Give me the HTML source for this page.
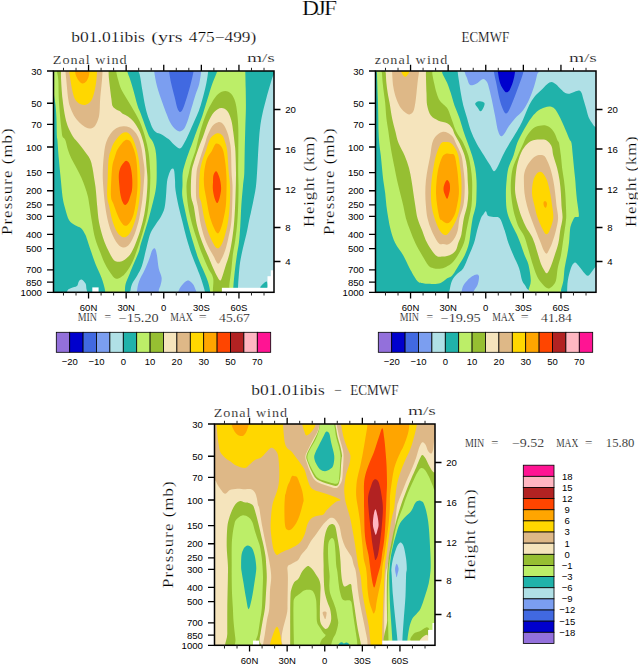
<!DOCTYPE html><html><head><meta charset="utf-8"><style>html,body{margin:0;padding:0;background:#fff;overflow:hidden}svg{display:block}</style></head><body><svg width="638" height="664" viewBox="0 0 638 664">
<rect width="638" height="664" fill="#fff"/>
<text transform="translate(301.90,14.80) scale(1.12,1)" x="0" y="0" font-family='"Liberation Serif", serif' font-size="21" text-anchor="start" textLength="31.34" lengthAdjust="spacing"  stroke="#fff" stroke-width="0.2">DJF</text>
<clipPath id="c1"><rect x="53.5" y="71.0" width="220.5" height="221.3"/></clipPath>
<g clip-path="url(#c1)">
<rect x="0" y="0" width="638" height="664" fill="#20b2aa"/>
<path d="M48.00,66.00C61.20,63.00 114.00,65.17 127.20,66.00C140.40,66.83 126.68,68.67 127.20,71.00C127.72,73.33 129.28,76.83 130.30,80.00C131.32,83.17 132.08,85.72 133.30,90.00C134.52,94.28 136.40,101.87 137.60,105.70C138.80,109.53 139.52,110.40 140.50,113.00C141.48,115.60 142.42,118.30 143.50,121.30C144.58,124.30 146.00,128.38 147.00,131.00C148.00,133.62 148.52,135.17 149.50,137.00C150.48,138.83 151.90,139.83 152.90,142.00C153.90,144.17 154.90,147.00 155.50,150.00C156.10,153.00 156.30,156.33 156.50,160.00C156.70,163.67 156.70,168.33 156.70,172.00C156.70,175.67 156.73,178.67 156.50,182.00C156.27,185.33 156.05,188.00 155.30,192.00C154.55,196.00 153.17,201.33 152.00,206.00C150.83,210.67 149.58,215.50 148.30,220.00C147.02,224.50 145.60,228.83 144.30,233.00C143.00,237.17 141.38,241.95 140.50,245.00C139.62,248.05 140.03,248.37 139.00,251.30C137.97,254.23 135.87,258.83 134.30,262.60C132.73,266.37 131.02,270.45 129.60,273.90C128.18,277.35 126.58,280.55 125.80,283.30C125.02,286.05 125.05,288.12 124.90,290.40C124.75,292.68 128.20,295.90 124.90,297.00C121.60,298.10 108.40,298.10 105.10,297.00C101.80,295.90 105.72,293.63 105.10,290.40C104.48,287.17 102.97,281.92 101.40,277.60C99.83,273.28 97.43,268.88 95.70,264.50C93.97,260.12 92.40,255.38 91.00,251.30C89.60,247.22 88.28,242.85 87.30,240.00C86.32,237.15 86.13,236.17 85.10,234.20C84.07,232.23 82.77,229.70 81.10,228.20C79.43,226.70 77.10,226.53 75.10,225.20C73.10,223.87 70.78,223.07 69.10,220.20C67.42,217.33 66.10,211.97 65.00,208.00C63.90,204.03 63.23,201.47 62.50,196.40C61.77,191.33 61.22,183.87 60.60,177.60C59.98,171.33 59.33,165.07 58.80,158.80C58.27,152.53 57.72,143.73 57.40,140.00C57.08,136.27 57.07,140.13 56.90,136.40C56.73,132.67 56.63,122.83 56.40,117.60C56.17,112.37 55.90,108.77 55.50,105.00C55.10,101.23 54.42,98.50 54.00,95.00C53.58,91.50 54.00,85.83 53.00,84.00C52.00,82.17 48.83,87.00 48.00,84.00C47.17,81.00 34.80,69.00 48.00,66.00Z" fill="#bcee68"/>
<path d="M217.20,66.00C221.88,65.13 240.62,65.13 245.30,66.00C249.98,66.87 245.23,67.53 245.30,71.20C245.37,74.87 245.60,81.87 245.70,88.00C245.80,94.13 245.97,101.33 245.90,108.00C245.83,114.67 245.50,120.83 245.30,128.00C245.10,135.17 244.87,143.50 244.70,151.00C244.53,158.50 244.58,167.17 244.30,173.00C244.02,178.83 243.50,180.50 243.00,186.00C242.50,191.50 241.75,199.33 241.30,206.00C240.85,212.67 240.68,220.00 240.30,226.00C239.92,232.00 239.57,237.17 239.00,242.00C238.43,246.83 237.58,250.28 236.90,255.00C236.22,259.72 235.50,264.87 234.90,270.30C234.30,275.73 233.57,283.15 233.30,287.60C233.03,292.05 237.15,295.43 233.30,297.00C229.45,298.57 214.05,297.83 210.20,297.00C206.35,296.17 210.53,294.43 210.20,292.00C209.87,289.57 209.20,285.68 208.20,282.40C207.20,279.12 205.87,276.32 204.20,272.30C202.53,268.28 200.05,263.32 198.20,258.30C196.35,253.28 194.78,247.88 193.10,242.20C191.42,236.52 189.60,230.22 188.10,224.20C186.60,218.18 185.08,210.98 184.10,206.10C183.12,201.22 182.47,198.42 182.20,194.90C181.93,191.38 182.42,188.67 182.50,185.00C182.58,181.33 182.20,176.73 182.70,172.90C183.20,169.07 184.40,165.65 185.50,162.00C186.60,158.35 188.22,154.00 189.30,151.00C190.38,148.00 190.85,147.13 192.00,144.00C193.15,140.87 194.50,136.83 196.20,132.20C197.90,127.57 200.37,121.55 202.20,116.20C204.03,110.85 205.53,105.47 207.20,100.10C208.87,94.73 210.53,88.82 212.20,84.00C213.87,79.18 216.37,74.20 217.20,71.20C218.03,68.20 212.52,66.87 217.20,66.00Z" fill="#bcee68"/>
<path d="M57.00,66.00C47.13,66.87 56.78,68.87 57.00,71.20C57.22,73.53 58.00,75.40 58.30,80.00C58.60,84.60 58.48,92.53 58.80,98.80C59.12,105.07 59.75,112.40 60.20,117.60C60.65,122.80 61.12,126.87 61.50,130.00C61.88,133.13 61.87,134.73 62.50,136.40C63.13,138.07 64.38,137.73 65.30,140.00C66.22,142.27 66.97,146.87 68.00,150.00C69.03,153.13 70.08,155.80 71.50,158.80C72.92,161.80 74.87,164.87 76.50,168.00C78.13,171.13 79.88,174.43 81.30,177.60C82.72,180.77 83.90,183.87 85.00,187.00C86.10,190.13 87.15,193.23 87.90,196.40C88.65,199.57 88.82,201.70 89.50,206.00C90.18,210.30 91.07,216.83 92.00,222.20C92.93,227.57 93.73,233.18 95.10,238.20C96.47,243.22 98.52,247.95 100.20,252.30C101.88,256.65 103.48,260.85 105.20,264.30C106.92,267.75 108.78,270.62 110.50,273.00C112.22,275.38 113.72,277.93 115.50,278.60C117.28,279.27 119.42,278.05 121.20,277.00C122.98,275.95 124.35,274.75 126.20,272.30C128.05,269.85 130.28,266.63 132.30,262.30C134.32,257.97 136.47,251.65 138.30,246.30C140.13,240.95 141.80,235.55 143.30,230.20C144.80,224.85 146.27,219.90 147.30,214.20C148.33,208.50 149.00,201.70 149.50,196.00C150.00,190.30 150.22,184.67 150.30,180.00C150.38,175.33 150.30,172.67 150.00,168.00C149.70,163.33 149.32,157.17 148.50,152.00C147.68,146.83 146.58,142.12 145.10,137.00C143.62,131.88 141.95,126.52 139.60,121.30C137.25,116.08 134.00,110.92 131.00,105.70C128.00,100.48 123.73,94.28 121.60,90.00C119.47,85.72 119.10,83.13 118.20,80.00C117.30,76.87 116.53,73.53 116.20,71.20C115.87,68.87 126.07,66.87 116.20,66.00C106.33,65.13 66.87,65.13 57.00,66.00Z" fill="#96bf32"/>
<path d="M225.20,91.10C227.38,91.10 229.62,92.27 231.30,94.10C232.98,95.93 234.30,98.77 235.30,102.10C236.30,105.43 236.80,109.75 237.30,114.10C237.80,118.45 238.13,122.05 238.30,128.20C238.47,134.35 238.32,143.55 238.30,151.00C238.28,158.45 238.17,167.23 238.20,172.90C238.23,178.57 238.48,180.13 238.50,185.00C238.52,189.87 238.50,195.90 238.30,202.10C238.10,208.30 237.80,215.88 237.30,222.20C236.80,228.52 236.05,234.53 235.30,240.00C234.55,245.47 233.47,249.95 232.80,255.00C232.13,260.05 231.88,265.20 231.30,270.30C230.72,275.40 229.68,281.15 229.30,285.60C228.92,290.05 231.55,295.10 229.00,297.00C226.45,298.90 216.63,300.10 214.00,297.00C211.37,293.90 214.17,283.18 213.20,278.40C212.23,273.62 210.03,272.32 208.20,268.30C206.37,264.28 204.03,258.98 202.20,254.30C200.37,249.62 198.88,245.22 197.20,240.20C195.52,235.18 193.62,229.88 192.10,224.20C190.58,218.52 189.03,212.45 188.10,206.10C187.17,199.75 186.38,191.63 186.50,186.10C186.62,180.57 187.97,176.92 188.80,172.90C189.63,168.88 190.40,165.65 191.50,162.00C192.60,158.35 194.32,154.67 195.40,151.00C196.48,147.33 197.03,143.80 198.00,140.00C198.97,136.20 199.83,132.52 201.20,128.20C202.57,123.88 204.37,118.45 206.20,114.10C208.03,109.75 210.20,105.43 212.20,102.10C214.20,98.77 216.03,95.93 218.20,94.10C220.37,92.27 223.02,91.10 225.20,91.10Z" fill="#96bf32"/>
<path d="M61.00,66.00C53.07,66.87 60.98,68.87 61.00,71.20C61.02,73.53 60.85,75.40 61.10,80.00C61.35,84.60 61.80,92.53 62.50,98.80C63.20,105.07 64.30,112.73 65.30,117.60C66.30,122.47 67.23,124.87 68.50,128.00C69.77,131.13 71.70,134.40 72.90,136.40C74.10,138.40 74.02,137.90 75.70,140.00C77.38,142.10 80.65,145.87 83.00,149.00C85.35,152.13 88.22,155.63 89.80,158.80C91.38,161.97 91.80,164.87 92.50,168.00C93.20,171.13 93.50,174.43 94.00,177.60C94.50,180.77 95.10,183.87 95.50,187.00C95.90,190.13 96.12,193.23 96.40,196.40C96.68,199.57 96.77,201.70 97.20,206.00C97.63,210.30 98.00,216.83 99.00,222.20C100.00,227.57 101.67,233.52 103.20,238.20C104.73,242.88 106.57,246.83 108.20,250.30C109.83,253.77 111.63,257.12 113.00,259.00C114.37,260.88 115.07,261.18 116.40,261.60C117.73,262.02 119.57,261.85 121.00,261.50C122.43,261.15 123.45,260.70 125.00,259.50C126.55,258.30 128.58,256.85 130.30,254.30C132.02,251.75 133.63,248.22 135.30,244.20C136.97,240.18 138.80,235.20 140.30,230.20C141.80,225.20 143.23,219.88 144.30,214.20C145.37,208.52 146.17,201.80 146.70,196.10C147.23,190.40 147.50,184.63 147.50,180.00C147.50,175.37 147.07,172.92 146.70,168.30C146.33,163.68 145.92,156.85 145.30,152.30C144.68,147.75 143.97,144.55 143.00,141.00C142.03,137.45 141.12,134.28 139.50,131.00C137.88,127.72 135.22,123.72 133.30,121.30C131.38,118.88 129.68,117.70 128.00,116.50C126.32,115.30 124.53,114.98 123.20,114.10C121.87,113.22 121.17,111.97 120.00,111.20C118.83,110.43 117.43,110.35 116.20,109.50C114.97,108.65 113.40,107.88 112.60,106.10C111.80,104.32 111.98,103.15 111.40,98.80C110.82,94.45 109.57,84.60 109.10,80.00C108.63,75.40 108.68,73.53 108.60,71.20C108.52,68.87 116.53,66.87 108.60,66.00C100.67,65.13 68.93,65.13 61.00,66.00Z" fill="#f5e4bc"/>
<path d="M221.20,108.10C223.38,107.93 225.62,109.08 227.30,111.10C228.98,113.12 230.30,116.68 231.30,120.20C232.30,123.72 232.72,128.07 233.30,132.20C233.88,136.33 234.45,141.87 234.80,145.00C235.15,148.13 235.20,146.35 235.40,151.00C235.60,155.65 235.98,165.40 236.00,172.90C236.02,180.40 235.78,188.12 235.50,196.00C235.22,203.88 234.83,213.17 234.30,220.20C233.77,227.23 233.13,232.52 232.30,238.20C231.47,243.88 230.43,249.62 229.30,254.30C228.17,258.98 226.63,262.68 225.50,266.30C224.37,269.92 223.37,273.62 222.50,276.00C221.63,278.38 221.13,280.43 220.30,280.60C219.47,280.77 218.68,279.05 217.50,277.00C216.32,274.95 214.75,271.75 213.20,268.30C211.65,264.85 210.03,260.65 208.20,256.30C206.37,251.95 204.03,247.22 202.20,242.20C200.37,237.18 198.62,232.22 197.20,226.20C195.78,220.18 194.73,211.32 193.70,206.10C192.67,200.88 191.37,200.43 191.00,194.90C190.63,189.37 191.00,178.38 191.50,172.90C192.00,167.42 192.98,165.65 194.00,162.00C195.02,158.35 196.52,154.17 197.60,151.00C198.68,147.83 199.57,145.47 200.50,143.00C201.43,140.53 201.92,139.67 203.20,136.20C204.48,132.73 206.37,126.22 208.20,122.20C210.03,118.18 212.03,114.45 214.20,112.10C216.37,109.75 219.02,108.27 221.20,108.10Z" fill="#f5e4bc"/>
<path d="M65.50,66.00C59.33,66.87 65.37,68.87 65.50,71.20C65.63,73.53 65.85,75.40 66.30,80.00C66.75,84.60 67.50,94.13 68.20,98.80C68.90,103.47 69.33,104.87 70.50,108.00C71.67,111.13 73.53,115.02 75.20,117.60C76.87,120.18 78.70,121.85 80.50,123.50C82.30,125.15 84.30,126.68 86.00,127.50C87.70,128.32 89.20,128.65 90.70,128.40C92.20,128.15 93.67,127.80 95.00,126.00C96.33,124.20 97.90,120.60 98.70,117.60C99.50,114.60 99.55,111.13 99.80,108.00C100.05,104.87 99.83,103.47 100.20,98.80C100.57,94.13 101.62,84.63 102.00,80.00C102.38,75.37 102.42,73.33 102.50,71.00C102.58,68.67 108.67,66.83 102.50,66.00C96.33,65.17 71.67,65.13 65.50,66.00Z" fill="#deb887"/>
<path d="M116.20,128.20C118.37,126.87 121.02,126.37 123.20,126.20C125.38,126.03 127.45,126.37 129.30,127.20C131.15,128.03 132.80,129.53 134.30,131.20C135.80,132.87 137.13,134.52 138.30,137.20C139.47,139.88 140.47,143.45 141.30,147.30C142.13,151.15 142.77,156.52 143.30,160.30C143.83,164.08 144.40,166.37 144.50,170.00C144.60,173.63 144.27,177.08 143.90,182.10C143.53,187.12 143.07,194.08 142.30,200.10C141.53,206.12 140.47,212.85 139.30,218.20C138.13,223.55 136.63,228.37 135.30,232.20C133.97,236.03 132.65,238.85 131.30,241.20C129.95,243.55 128.72,245.28 127.20,246.30C125.68,247.32 123.87,247.82 122.20,247.30C120.53,246.78 118.87,245.38 117.20,243.20C115.53,241.02 113.70,237.70 112.20,234.20C110.70,230.70 109.37,226.88 108.20,222.20C107.03,217.52 106.03,212.12 105.20,206.10C104.37,200.08 103.60,192.12 103.20,186.10C102.80,180.08 102.63,175.63 102.80,170.00C102.97,164.37 103.63,156.93 104.20,152.30C104.77,147.67 105.20,145.22 106.20,142.20C107.20,139.18 108.53,136.53 110.20,134.20C111.87,131.87 114.03,129.53 116.20,128.20Z" fill="#deb887"/>
<path d="M218.20,122.20C220.03,121.87 221.68,122.53 223.20,124.20C224.72,125.87 226.20,129.23 227.30,132.20C228.40,135.17 229.18,138.87 229.80,142.00C230.42,145.13 230.70,145.85 231.00,151.00C231.30,156.15 231.35,167.23 231.60,172.90C231.85,178.57 232.38,180.13 232.50,185.00C232.62,189.87 232.50,195.90 232.30,202.10C232.10,208.30 231.97,216.18 231.30,222.20C230.63,228.22 229.32,233.52 228.30,238.20C227.28,242.88 226.33,246.83 225.20,250.30C224.07,253.77 222.70,256.77 221.50,259.00C220.30,261.23 219.33,264.20 218.00,263.70C216.67,263.20 215.47,259.58 213.50,256.00C211.53,252.42 208.25,247.17 206.20,242.20C204.15,237.23 202.60,232.22 201.20,226.20C199.80,220.18 198.67,211.32 197.80,206.10C196.93,200.88 196.22,200.43 196.00,194.90C195.78,189.37 196.00,178.38 196.50,172.90C197.00,167.42 198.00,165.65 199.00,162.00C200.00,158.35 201.42,154.33 202.50,151.00C203.58,147.67 204.72,144.47 205.50,142.00C206.28,139.53 206.08,138.83 207.20,136.20C208.32,133.57 210.37,128.53 212.20,126.20C214.03,123.87 216.37,122.53 218.20,122.20Z" fill="#deb887"/>
<path d="M69.10,66.00C64.45,66.87 68.87,68.87 69.10,71.20C69.33,73.53 69.98,76.87 70.50,80.00C71.02,83.13 71.48,86.87 72.20,90.00C72.92,93.13 73.67,96.55 74.80,98.80C75.93,101.05 77.37,102.48 79.00,103.50C80.63,104.52 82.93,104.98 84.60,104.90C86.27,104.82 87.73,104.02 89.00,103.00C90.27,101.98 91.23,100.97 92.20,98.80C93.17,96.63 94.10,93.13 94.80,90.00C95.50,86.87 96.03,83.13 96.40,80.00C96.77,76.87 96.90,73.53 97.00,71.20C97.10,68.87 101.65,66.87 97.00,66.00C92.35,65.13 73.75,65.13 69.10,66.00Z" fill="#ffd700"/>
<path d="M122.20,133.20C123.87,132.27 125.68,132.10 127.20,132.60C128.72,133.10 130.12,134.60 131.30,136.20C132.48,137.80 133.30,139.52 134.30,142.20C135.30,144.88 136.47,148.67 137.30,152.30C138.13,155.93 138.77,159.05 139.30,164.00C139.83,168.95 140.50,175.98 140.50,182.00C140.50,188.02 140.00,194.40 139.30,200.10C138.60,205.80 137.47,211.52 136.30,216.20C135.13,220.88 133.65,225.03 132.30,228.20C130.95,231.37 129.72,233.70 128.20,235.20C126.68,236.70 125.03,237.70 123.20,237.20C121.37,236.70 119.03,235.03 117.20,232.20C115.37,229.37 113.53,224.55 112.20,220.20C110.87,215.85 110.03,210.07 109.20,206.10C108.37,202.13 107.45,201.15 107.20,196.40C106.95,191.65 107.47,183.87 107.70,177.60C107.93,171.33 108.05,163.40 108.60,158.80C109.15,154.20 110.23,152.47 111.00,150.00C111.77,147.53 112.17,145.97 113.20,144.00C114.23,142.03 115.70,140.00 117.20,138.20C118.70,136.40 120.53,134.13 122.20,133.20Z" fill="#ffd700"/>
<path d="M217.20,133.20C219.03,132.87 220.87,133.70 222.20,135.20C223.53,136.70 224.37,139.57 225.20,142.20C226.03,144.83 226.60,145.88 227.20,151.00C227.80,156.12 228.33,167.23 228.80,172.90C229.27,178.57 229.82,180.13 230.00,185.00C230.18,189.87 230.18,196.23 229.90,202.10C229.62,207.97 229.08,214.85 228.30,220.20C227.52,225.55 226.38,230.02 225.20,234.20C224.02,238.38 222.53,242.95 221.20,245.30C219.87,247.65 218.53,248.65 217.20,248.30C215.87,247.95 214.70,245.88 213.20,243.20C211.70,240.52 209.70,236.37 208.20,232.20C206.70,228.03 205.37,223.22 204.20,218.20C203.03,213.18 202.03,205.98 201.20,202.10C200.37,198.22 199.43,199.77 199.20,194.90C198.97,190.03 199.25,178.72 199.80,172.90C200.35,167.08 201.50,163.65 202.50,160.00C203.50,156.35 204.88,153.67 205.80,151.00C206.72,148.33 207.10,146.30 208.00,144.00C208.90,141.70 209.67,139.00 211.20,137.20C212.73,135.40 215.37,133.53 217.20,133.20Z" fill="#ffd700"/>
<path d="M75.10,66.00C72.70,66.87 74.93,69.53 75.10,71.20C75.27,72.87 75.43,74.37 76.10,76.00C76.77,77.63 78.03,79.73 79.10,81.00C80.17,82.27 81.33,83.50 82.50,83.60C83.67,83.70 85.10,82.70 86.10,81.60C87.10,80.50 87.93,78.73 88.50,77.00C89.07,75.27 89.33,73.03 89.50,71.20C89.67,69.37 91.90,66.87 89.50,66.00C87.10,65.13 77.50,65.13 75.10,66.00Z" fill="#ffa500"/>
<path d="M125.20,140.20C126.55,139.60 128.12,139.77 129.30,140.60C130.48,141.43 131.30,142.92 132.30,145.20C133.30,147.48 134.52,150.83 135.30,154.30C136.08,157.77 136.63,160.72 137.00,166.00C137.37,171.28 137.68,179.98 137.50,186.00C137.32,192.02 136.60,197.23 135.90,202.10C135.20,206.97 134.40,211.68 133.30,215.20C132.20,218.72 130.65,221.43 129.30,223.20C127.95,224.97 126.55,225.97 125.20,225.80C123.85,225.63 122.53,224.13 121.20,222.20C119.87,220.27 118.48,217.23 117.20,214.20C115.92,211.17 114.53,206.97 113.50,204.00C112.47,201.03 111.35,200.80 111.00,196.40C110.65,192.00 111.15,182.83 111.40,177.60C111.65,172.37 111.98,168.27 112.50,165.00C113.02,161.73 113.72,160.50 114.50,158.00C115.28,155.50 116.08,152.30 117.20,150.00C118.32,147.70 119.87,145.83 121.20,144.20C122.53,142.57 123.85,140.80 125.20,140.20Z" fill="#ffa500"/>
<path d="M215.70,143.80C217.10,142.83 218.93,144.00 220.20,145.20C221.47,146.40 222.42,147.82 223.30,151.00C224.18,154.18 224.97,159.80 225.50,164.30C226.03,168.80 226.33,173.70 226.50,178.00C226.67,182.30 226.62,185.42 226.50,190.10C226.38,194.78 226.35,201.08 225.80,206.10C225.25,211.12 224.13,216.18 223.20,220.20C222.27,224.22 221.20,228.03 220.20,230.20C219.20,232.37 218.37,233.87 217.20,233.20C216.03,232.53 214.53,229.37 213.20,226.20C211.87,223.03 210.37,218.88 209.20,214.20C208.03,209.52 207.07,202.97 206.20,198.10C205.33,193.23 204.35,189.20 204.00,185.00C203.65,180.80 203.77,176.73 204.10,172.90C204.43,169.07 205.32,164.77 206.00,162.00C206.68,159.23 207.23,158.13 208.20,156.30C209.17,154.47 210.55,153.08 211.80,151.00C213.05,148.92 214.30,144.77 215.70,143.80Z" fill="#ffa500"/>
<path d="M123.20,163.30C124.20,162.03 125.18,160.70 126.20,160.70C127.22,160.70 128.45,161.70 129.30,163.30C130.15,164.90 130.80,167.52 131.30,170.30C131.80,173.08 132.18,176.72 132.30,180.00C132.42,183.28 132.38,187.17 132.00,190.00C131.62,192.83 130.63,194.98 130.00,197.00C129.37,199.02 129.00,200.75 128.20,202.10C127.40,203.45 126.13,205.10 125.20,205.10C124.27,205.10 123.38,203.78 122.60,202.10C121.82,200.42 121.05,197.85 120.50,195.00C119.95,192.15 119.58,188.33 119.30,185.00C119.02,181.67 118.65,177.78 118.80,175.00C118.95,172.22 119.47,170.25 120.20,168.30C120.93,166.35 122.20,164.57 123.20,163.30Z" fill="#ff4500"/>
<path d="M216.20,171.30C217.12,171.48 218.28,174.42 219.00,176.20C219.72,177.98 220.15,179.80 220.50,182.00C220.85,184.20 221.27,186.70 221.10,189.40C220.93,192.10 220.15,195.92 219.50,198.20C218.85,200.48 218.02,203.10 217.20,203.10C216.38,203.10 215.32,200.48 214.60,198.20C213.88,195.92 213.17,192.10 212.90,189.40C212.63,186.70 212.90,184.38 213.00,182.00C213.10,179.62 212.97,176.88 213.50,175.10C214.03,173.32 215.28,171.12 216.20,171.30Z" fill="#ff4500"/>
<path d="M138.50,66.00C126.88,66.83 138.25,69.33 138.50,71.00C138.75,72.67 139.37,72.83 140.00,76.00C140.63,79.17 141.45,85.05 142.30,90.00C143.15,94.95 144.23,101.53 145.10,105.70C145.97,109.87 146.72,112.40 147.50,115.00C148.28,117.60 148.97,119.13 149.80,121.30C150.63,123.47 151.47,126.18 152.50,128.00C153.53,129.82 154.47,131.13 156.00,132.20C157.53,133.27 159.62,133.25 161.70,134.40C163.78,135.55 166.47,137.42 168.50,139.10C170.53,140.78 172.07,142.93 173.90,144.50C175.73,146.07 177.92,148.50 179.50,148.50C181.08,148.50 181.85,146.97 183.40,144.50C184.95,142.03 187.00,137.53 188.80,133.70C190.60,129.87 192.52,125.33 194.20,121.50C195.88,117.67 197.57,114.27 198.90,110.70C200.23,107.13 200.98,104.55 202.20,100.10C203.42,95.65 205.20,88.82 206.20,84.00C207.20,79.18 207.87,74.20 208.20,71.20C208.53,68.20 219.82,66.87 208.20,66.00C196.58,65.13 150.12,65.17 138.50,66.00Z" fill="#b0e0e6"/>
<path d="M130.50,297.00C118.08,295.90 130.18,292.68 130.50,290.40C130.82,288.12 131.30,285.75 132.40,283.30C133.50,280.85 135.53,278.53 137.10,275.70C138.67,272.87 140.38,270.37 141.80,266.30C143.22,262.23 144.50,255.68 145.60,251.30C146.70,246.92 147.50,243.22 148.40,240.00C149.30,236.78 149.73,234.67 151.00,232.00C152.27,229.33 154.33,226.58 156.00,224.00C157.67,221.42 159.58,219.17 161.00,216.50C162.42,213.83 163.67,211.42 164.50,208.00C165.33,204.58 165.58,200.33 166.00,196.00C166.42,191.67 166.50,185.67 167.00,182.00C167.50,178.33 168.25,176.17 169.00,174.00C169.75,171.83 170.67,169.67 171.50,169.00C172.33,168.33 173.42,168.17 174.00,170.00C174.58,171.83 174.75,176.67 175.00,180.00C175.25,183.33 174.92,185.67 175.50,190.00C176.08,194.33 177.33,200.67 178.50,206.00C179.67,211.33 181.17,216.67 182.50,222.00C183.83,227.33 185.00,232.67 186.50,238.00C188.00,243.33 189.75,249.00 191.50,254.00C193.25,259.00 195.33,263.67 197.00,268.00C198.67,272.33 200.17,276.00 201.50,280.00C202.83,284.00 204.42,289.17 205.00,292.00C205.58,294.83 217.42,296.17 205.00,297.00C192.58,297.83 142.92,298.10 130.50,297.00Z" fill="#b0e0e6"/>
<path d="M279.00,71.00C278.17,33.83 275.43,71.83 274.00,74.00C272.57,76.17 271.67,79.98 270.40,84.00C269.13,88.02 267.73,93.08 266.40,98.10C265.07,103.12 263.47,109.08 262.40,114.10C261.33,119.12 260.67,122.50 260.00,128.20C259.33,133.90 258.85,141.62 258.40,148.30C257.95,154.98 257.70,162.02 257.30,168.30C256.90,174.58 256.63,180.72 256.00,186.00C255.37,191.28 254.33,195.67 253.50,200.00C252.67,204.33 251.72,208.67 251.00,212.00C250.28,215.33 249.97,216.32 249.20,220.00C248.43,223.68 247.45,229.40 246.40,234.10C245.35,238.80 243.95,243.50 242.90,248.20C241.85,252.90 240.80,257.60 240.10,262.30C239.40,267.00 239.05,272.17 238.70,276.40C238.35,280.63 238.12,284.27 238.00,287.70C237.88,291.13 231.17,295.45 238.00,297.00C244.83,298.55 272.17,334.67 279.00,297.00C285.83,259.33 279.83,108.17 279.00,71.00Z" fill="#b0e0e6"/>
<path d="M67.50,297.00C64.37,295.90 66.87,291.90 67.50,290.40C68.13,288.90 69.73,288.72 71.30,288.00C72.87,287.28 75.65,287.20 76.90,286.10C78.15,285.00 78.02,282.50 78.80,281.40C79.58,280.30 80.50,279.18 81.60,279.50C82.70,279.82 84.62,281.88 85.40,283.30C86.18,284.72 86.15,285.72 86.30,288.00C86.45,290.28 89.43,295.50 86.30,297.00C83.17,298.50 70.63,298.10 67.50,297.00Z" fill="#b0e0e6"/>
<path d="M154.20,66.00C146.37,66.90 153.73,68.02 154.20,71.40C154.67,74.78 155.62,81.03 157.00,86.30C158.38,91.57 160.93,98.48 162.50,103.00C164.07,107.52 164.95,109.87 166.40,113.40C167.85,116.93 169.27,121.27 171.20,124.20C173.13,127.13 175.97,130.10 178.00,131.00C180.03,131.90 181.83,131.18 183.40,129.60C184.97,128.02 186.05,125.10 187.40,121.50C188.75,117.90 190.13,112.52 191.50,108.00C192.87,103.48 194.32,98.40 195.60,94.40C196.88,90.40 198.27,87.87 199.20,84.00C200.13,80.13 200.87,74.20 201.20,71.20C201.53,68.20 209.03,66.87 201.20,66.00C193.37,65.13 162.03,65.10 154.20,66.00Z" fill="#7b9ef0"/>
<path d="M137.10,297.00C133.50,295.90 136.78,293.00 137.10,290.40C137.42,287.80 137.75,284.78 139.00,281.40C140.25,278.02 142.88,273.87 144.60,270.10C146.32,266.33 148.03,262.10 149.30,258.80C150.57,255.50 151.25,252.02 152.20,250.30C153.15,248.58 154.22,247.72 155.00,248.50C155.78,249.28 156.28,251.72 156.90,255.00C157.52,258.28 157.92,264.43 158.70,268.20C159.48,271.97 161.28,274.78 161.60,277.60C161.92,280.42 161.08,282.97 160.60,285.10C160.12,287.23 159.02,288.42 158.70,290.40C158.38,292.38 162.30,295.90 158.70,297.00C155.10,298.10 140.70,298.10 137.10,297.00Z" fill="#7b9ef0"/>
<path d="M178.00,297.00C175.17,295.83 178.17,292.17 179.00,290.00C179.83,287.83 181.58,285.58 183.00,284.00C184.42,282.42 186.17,280.83 187.50,280.50C188.83,280.17 189.83,280.92 191.00,282.00C192.17,283.08 193.67,284.50 194.50,287.00C195.33,289.50 198.75,295.33 196.00,297.00C193.25,298.67 180.83,298.17 178.00,297.00Z" fill="#7b9ef0"/>
<path d="M169.10,66.00C165.03,66.90 168.75,68.47 169.10,71.40C169.45,74.33 170.28,79.32 171.20,83.60C172.12,87.88 173.58,93.03 174.60,97.10C175.62,101.17 176.40,105.52 177.30,108.00C178.20,110.48 179.10,111.78 180.00,112.00C180.90,112.22 181.68,111.33 182.70,109.30C183.72,107.27 184.87,103.63 186.10,99.80C187.33,95.97 188.87,91.03 190.10,86.30C191.33,81.57 192.93,74.78 193.50,71.40C194.07,68.02 197.57,66.90 193.50,66.00C189.43,65.10 173.17,65.10 169.10,66.00Z" fill="#4169e1"/>
<path d="M260.30,287.80C259.72,287.00 262.88,284.02 264.00,283.00C265.12,281.98 266.42,280.90 267.00,281.70C267.58,282.50 268.62,286.78 267.50,287.80C266.38,288.82 260.88,288.60 260.30,287.80Z" fill="#20b2aa"/>
<rect x="92.3" y="287.4" width="6.299999999999997" height="5.600000000000023" fill="#fff"/>
<rect x="221.9" y="287.8" width="58.099999999999994" height="5.199999999999989" fill="#fff"/>
<rect x="267.5" y="276.2" width="12.5" height="16.80000000000001" fill="#fff"/>
<rect x="270.8" y="270.3" width="9.199999999999989" height="22.69999999999999" fill="#fff"/>
</g>
<rect x="53.5" y="71.0" width="220.5" height="221.3" fill="none" stroke="#000" stroke-width="1.5"/>
<path d="M264.02,71.0V67.8M264.02,292.3V295.5M251.48,71.0V67.8M251.48,292.3V295.5M226.42,71.0V67.8M226.42,292.3V295.5M213.88,71.0V67.8M213.88,292.3V295.5M188.82,71.0V67.8M188.82,292.3V295.5M176.28,71.0V67.8M176.28,292.3V295.5M151.22,71.0V67.8M151.22,292.3V295.5M138.68,71.0V67.8M138.68,292.3V295.5M113.62,71.0V67.8M113.62,292.3V295.5M101.08,71.0V67.8M101.08,292.3V295.5M76.02,71.0V67.8M76.02,292.3V295.5M63.48,71.0V67.8M63.48,292.3V295.5" stroke="#222" stroke-width="1.0" fill="none"/>
<path d="M238.95,71.0V64.7M238.95,292.3V298.6M201.35,71.0V64.7M201.35,292.3V298.6M163.75,71.0V64.7M163.75,292.3V298.6M126.15,71.0V64.7M126.15,292.3V298.6M88.55,71.0V64.7M88.55,292.3V298.6M53.5,71.00H47.0M53.5,103.24H47.0M53.5,124.47H47.0M53.5,146.98H47.0M53.5,172.57H47.0M53.5,190.73H47.0M53.5,204.81H47.0M53.5,216.32H47.0M53.5,234.47H47.0M53.5,248.56H47.0M53.5,269.79H47.0M53.5,282.04H47.0M53.5,292.30H47.0M274.0,109.50H280.5M274.0,149.00H280.5M274.0,189.00H280.5M274.0,227.50H280.5M274.0,261.50H280.5" stroke="#000" stroke-width="1.3" fill="none"/>
<text x="88.55" y="310.50" font-family='"Liberation Sans", sans-serif' font-size="9.5" text-anchor="middle" >60N</text>
<text x="126.15" y="310.50" font-family='"Liberation Sans", sans-serif' font-size="9.5" text-anchor="middle" >30N</text>
<text x="163.75" y="310.50" font-family='"Liberation Sans", sans-serif' font-size="9.5" text-anchor="middle" >0</text>
<text x="201.35" y="310.50" font-family='"Liberation Sans", sans-serif' font-size="9.5" text-anchor="middle" >30S</text>
<text x="238.95" y="310.50" font-family='"Liberation Sans", sans-serif' font-size="9.5" text-anchor="middle" >60S</text>
<text x="41.90" y="74.60" font-family='"Liberation Sans", sans-serif' font-size="9.6" text-anchor="end" >30</text>
<text x="41.90" y="106.84" font-family='"Liberation Sans", sans-serif' font-size="9.6" text-anchor="end" >50</text>
<text x="41.90" y="128.07" font-family='"Liberation Sans", sans-serif' font-size="9.6" text-anchor="end" >70</text>
<text x="41.90" y="150.58" font-family='"Liberation Sans", sans-serif' font-size="9.6" text-anchor="end" >100</text>
<text x="41.90" y="176.17" font-family='"Liberation Sans", sans-serif' font-size="9.6" text-anchor="end" >150</text>
<text x="41.90" y="194.33" font-family='"Liberation Sans", sans-serif' font-size="9.6" text-anchor="end" >200</text>
<text x="41.90" y="208.41" font-family='"Liberation Sans", sans-serif' font-size="9.6" text-anchor="end" >250</text>
<text x="41.90" y="219.92" font-family='"Liberation Sans", sans-serif' font-size="9.6" text-anchor="end" >300</text>
<text x="41.90" y="238.07" font-family='"Liberation Sans", sans-serif' font-size="9.6" text-anchor="end" >400</text>
<text x="41.90" y="252.16" font-family='"Liberation Sans", sans-serif' font-size="9.6" text-anchor="end" >500</text>
<text x="41.90" y="273.39" font-family='"Liberation Sans", sans-serif' font-size="9.6" text-anchor="end" >700</text>
<text x="41.90" y="285.64" font-family='"Liberation Sans", sans-serif' font-size="9.6" text-anchor="end" >850</text>
<text x="41.90" y="295.90" font-family='"Liberation Sans", sans-serif' font-size="9.6" text-anchor="end" >1000</text>
<text x="285.20" y="113.00" font-family='"Liberation Sans", sans-serif' font-size="9.6" text-anchor="start" >20</text>
<text x="285.20" y="152.50" font-family='"Liberation Sans", sans-serif' font-size="9.6" text-anchor="start" >16</text>
<text x="285.20" y="192.50" font-family='"Liberation Sans", sans-serif' font-size="9.6" text-anchor="start" >12</text>
<text x="285.20" y="231.00" font-family='"Liberation Sans", sans-serif' font-size="9.6" text-anchor="start" >8</text>
<text x="285.20" y="265.00" font-family='"Liberation Sans", sans-serif' font-size="9.6" text-anchor="start" >4</text>
<text transform="translate(11.799999999999997,181.65) rotate(-90) scale(1.12,1)" x="0" y="0" font-family='"Liberation Serif", serif' font-size="15" text-anchor="middle" textLength="95.27" lengthAdjust="spacing" stroke="#fff" stroke-width="0.2">Pressure (mb)</text>
<text transform="translate(313.5,181.65) rotate(-90) scale(1.12,1)" x="0" y="0" font-family='"Liberation Serif", serif' font-size="15" text-anchor="middle" textLength="80.80" lengthAdjust="spacing" stroke="#fff" stroke-width="0.2">Height (km)</text>
<text x="71.30" y="41.70" font-family='"Liberation Serif", serif' font-size="14.8" text-anchor="start" textLength="73.60" lengthAdjust="spacingAndGlyphs"  stroke="#fff" stroke-width="0.2">b01.01ibis</text>
<text x="151.20" y="41.70" font-family='"Liberation Serif", serif' font-size="14.8" text-anchor="start" textLength="31.40" lengthAdjust="spacingAndGlyphs"  stroke="#fff" stroke-width="0.2">(yrs</text>
<text x="188.80" y="41.70" font-family='"Liberation Serif", serif' font-size="14.8" text-anchor="start" textLength="67.40" lengthAdjust="spacingAndGlyphs"  stroke="#fff" stroke-width="0.2">475−499)</text>
<text transform="translate(52.80,64.10) scale(1.12,1)" x="0" y="0" font-family='"Liberation Serif", serif' font-size="12.6" text-anchor="start" textLength="65.80" lengthAdjust="spacing"  stroke="#fff" stroke-width="0.2">Zonal wind</text>
<text x="246.90" y="62.00" font-family='"Liberation Serif", serif' font-size="12.6" text-anchor="start" textLength="28.00" lengthAdjust="spacingAndGlyphs"  stroke="#fff" stroke-width="0.2">m/s</text>
<clipPath id="c2"><rect x="375.5" y="71.0" width="220.5" height="221.3"/></clipPath>
<g clip-path="url(#c2)">
<rect x="0" y="0" width="638" height="664" fill="#20b2aa"/>
<path d="M377.00,66.00C366.33,67.17 376.95,70.17 377.00,73.00C377.05,75.83 377.20,79.67 377.30,83.00C377.40,86.33 377.48,89.65 377.60,93.00C377.72,96.35 377.88,98.90 378.00,103.10C378.12,107.30 378.22,113.60 378.30,118.20C378.38,122.80 378.35,126.57 378.50,130.70C378.65,134.83 378.82,138.87 379.20,143.00C379.58,147.13 380.33,151.32 380.80,155.50C381.27,159.68 381.58,163.92 382.00,168.10C382.42,172.28 382.77,176.42 383.30,180.60C383.83,184.78 384.68,189.02 385.20,193.20C385.72,197.38 385.88,201.53 386.40,205.70C386.92,209.87 387.57,214.07 388.30,218.20C389.03,222.33 389.65,226.35 390.80,230.50C391.95,234.65 393.12,238.92 395.20,243.10C397.28,247.28 400.90,251.42 403.30,255.60C405.70,259.78 407.30,264.02 409.60,268.20C411.90,272.38 415.03,278.23 417.10,280.70C419.17,283.17 420.32,282.48 422.00,283.00C423.68,283.52 424.67,283.67 427.20,283.80C429.73,283.93 434.70,284.10 437.20,283.80C439.70,283.50 440.53,282.93 442.20,282.00C443.87,281.07 445.57,279.25 447.20,278.20C448.83,277.15 450.37,277.37 452.00,275.70C453.63,274.03 454.90,271.55 457.00,268.20C459.10,264.85 462.60,259.78 464.60,255.60C466.60,251.42 467.97,247.28 469.00,243.10C470.03,238.92 470.18,234.68 470.80,230.50C471.42,226.32 471.87,222.13 472.70,218.00C473.53,213.87 475.17,209.83 475.80,205.70C476.43,201.57 476.38,197.38 476.50,193.20C476.62,189.02 476.72,184.78 476.50,180.60C476.28,176.42 475.93,172.28 475.20,168.10C474.47,163.92 473.35,159.68 472.10,155.50C470.85,151.32 469.17,147.13 467.70,143.00C466.23,138.87 464.67,134.83 463.30,130.70C461.93,126.57 460.97,122.38 459.50,118.20C458.03,114.02 455.95,109.78 454.50,105.60C453.05,101.42 452.02,96.87 450.80,93.10C449.58,89.33 448.63,86.35 447.20,83.00C445.77,79.65 443.23,75.83 442.20,73.00C441.17,70.17 451.87,67.17 441.00,66.00C430.13,64.83 387.67,64.83 377.00,66.00Z" fill="#bcee68"/>
<path d="M550.20,106.60C551.87,106.82 553.23,107.50 554.60,108.80C555.97,110.10 557.15,112.22 558.40,114.40C559.65,116.58 560.85,119.18 562.10,121.90C563.35,124.62 564.65,127.77 565.90,130.70C567.15,133.63 568.67,137.45 569.60,139.50C570.53,141.55 570.97,140.33 571.50,143.00C572.03,145.67 572.38,151.32 572.80,155.50C573.22,159.68 573.58,163.92 574.00,168.10C574.42,172.28 574.97,176.95 575.30,180.60C575.63,184.25 575.73,186.87 576.00,190.00C576.27,193.13 576.53,196.27 576.90,199.40C577.27,202.53 577.88,205.98 578.20,208.80C578.52,211.62 579.12,214.93 578.80,216.30C578.48,217.67 577.03,216.78 576.30,217.00C575.57,217.22 575.03,216.88 574.40,217.60C573.77,218.32 573.07,220.05 572.50,221.30C571.93,222.55 571.42,223.65 571.00,225.10C570.58,226.55 570.33,227.00 570.00,230.00C569.67,233.00 569.48,238.83 569.00,243.10C568.52,247.37 567.83,251.42 567.10,255.60C566.37,259.78 565.22,264.02 564.60,268.20C563.98,272.38 564.00,277.07 563.40,280.70C562.80,284.33 561.57,287.28 561.00,290.00C560.43,292.72 565.50,295.83 560.00,297.00C554.50,298.17 533.28,298.05 528.00,297.00C522.72,295.95 527.83,293.42 528.30,290.70C528.77,287.98 530.78,285.05 530.80,280.70C530.82,276.35 529.45,268.88 528.40,264.60C527.35,260.32 525.73,258.27 524.50,255.00C523.27,251.73 522.13,248.10 521.00,245.00C519.87,241.90 519.03,239.40 517.70,236.40C516.37,233.40 514.45,230.07 513.00,227.00C511.55,223.93 510.08,221.13 509.00,218.00C507.92,214.87 507.02,212.33 506.50,208.20C505.98,204.07 505.88,197.80 505.90,193.20C505.92,188.60 506.18,184.78 506.60,180.60C507.02,176.42 507.25,172.28 508.40,168.10C509.55,163.92 512.03,159.68 513.50,155.50C514.97,151.32 515.78,146.72 517.20,143.00C518.62,139.28 520.37,136.30 522.00,133.20C523.63,130.10 525.33,127.12 527.00,124.40C528.67,121.68 530.12,119.20 532.00,116.90C533.88,114.60 536.20,112.17 538.30,110.60C540.40,109.03 542.62,108.17 544.60,107.50C546.58,106.83 548.53,106.38 550.20,106.60Z" fill="#bcee68"/>
<path d="M382.00,66.00C373.67,67.17 381.88,70.17 382.00,73.00C382.12,75.83 382.38,79.67 382.70,83.00C383.02,86.33 383.48,89.65 383.90,93.00C384.32,96.35 384.78,98.90 385.20,103.10C385.62,107.30 385.88,113.60 386.40,118.20C386.92,122.80 387.70,126.57 388.30,130.70C388.90,134.83 389.37,138.87 390.00,143.00C390.63,147.13 391.33,151.32 392.10,155.50C392.87,159.68 393.77,163.92 394.60,168.10C395.43,172.28 396.17,176.42 397.10,180.60C398.03,184.78 399.17,189.02 400.20,193.20C401.23,197.38 402.35,201.53 403.30,205.70C404.25,209.87 404.75,214.07 405.90,218.20C407.05,222.33 408.63,226.35 410.20,230.50C411.77,234.65 413.30,238.92 415.30,243.10C417.30,247.28 420.02,251.85 422.20,255.60C424.38,259.35 426.53,263.50 428.40,265.60C430.27,267.70 431.52,267.67 433.40,268.20C435.28,268.73 437.60,269.02 439.70,268.80C441.80,268.58 443.95,267.85 446.00,266.90C448.05,265.95 450.05,264.98 452.00,263.10C453.95,261.22 455.72,258.93 457.70,255.60C459.68,252.27 462.45,247.28 463.90,243.10C465.35,238.92 465.55,234.68 466.40,230.50C467.25,226.32 468.15,222.13 469.00,218.00C469.85,213.87 470.98,209.83 471.50,205.70C472.02,201.57 472.00,197.38 472.10,193.20C472.20,189.02 472.32,184.78 472.10,180.60C471.88,176.42 471.43,172.28 470.80,168.10C470.17,163.92 469.55,159.68 468.30,155.50C467.05,151.32 464.77,146.08 463.30,143.00C461.83,139.92 460.75,139.05 459.50,137.00C458.25,134.95 456.88,133.03 455.80,130.70C454.72,128.37 453.88,125.45 453.00,123.00C452.12,120.55 451.33,118.25 450.50,116.00C449.67,113.75 448.97,111.23 448.00,109.50C447.03,107.77 446.08,107.08 444.70,105.60C443.32,104.12 441.05,102.70 439.70,100.60C438.35,98.50 437.53,95.93 436.60,93.00C435.67,90.07 434.83,86.33 434.10,83.00C433.37,79.67 432.55,75.83 432.20,73.00C431.85,70.17 440.37,67.17 432.00,66.00C423.63,64.83 390.33,64.83 382.00,66.00Z" fill="#96bf32"/>
<path d="M545.80,125.40C547.67,125.82 549.33,126.90 550.80,128.20C552.27,129.50 553.45,131.12 554.60,133.20C555.75,135.28 556.97,139.07 557.70,140.70C558.43,142.33 558.47,140.53 559.00,143.00C559.53,145.47 560.38,151.32 560.90,155.50C561.42,159.68 561.58,163.92 562.10,168.10C562.62,172.28 563.47,176.42 564.00,180.60C564.53,184.78 564.98,189.02 565.30,193.20C565.62,197.38 565.75,201.57 565.90,205.70C566.05,209.83 566.42,213.87 566.20,218.00C565.98,222.13 565.17,226.32 564.60,230.50C564.03,234.68 563.42,238.92 562.80,243.10C562.18,247.28 561.75,251.42 560.90,255.60C560.05,259.78 558.53,264.02 557.70,268.20C556.87,272.38 556.93,277.57 555.90,280.70C554.87,283.83 553.00,285.77 551.50,287.00C550.00,288.23 548.77,289.00 546.90,288.10C545.03,287.20 542.03,283.78 540.30,281.60C538.57,279.42 537.75,277.83 536.50,275.00C535.25,272.17 534.13,268.77 532.80,264.60C531.47,260.43 529.92,254.70 528.50,250.00C527.08,245.30 525.93,240.23 524.30,236.40C522.67,232.57 520.17,230.07 518.70,227.00C517.23,223.93 516.45,221.13 515.50,218.00C514.55,214.87 513.75,212.33 513.00,208.20C512.25,204.07 511.33,197.80 511.00,193.20C510.67,188.60 510.70,184.78 511.00,180.60C511.30,176.42 511.67,172.28 512.80,168.10C513.93,163.92 516.02,159.68 517.80,155.50C519.58,151.32 521.97,146.30 523.50,143.00C525.03,139.70 525.37,138.17 527.00,135.70C528.63,133.23 531.20,129.87 533.30,128.20C535.40,126.53 537.52,126.17 539.60,125.70C541.68,125.23 543.93,124.98 545.80,125.40Z" fill="#96bf32"/>
<path d="M385.80,66.00C379.12,67.17 385.70,70.17 385.80,73.00C385.90,75.83 386.08,79.67 386.40,83.00C386.72,86.33 387.17,89.65 387.70,93.00C388.23,96.35 388.87,98.90 389.60,103.10C390.33,107.30 391.17,113.60 392.10,118.20C393.03,122.80 394.13,126.57 395.20,130.70C396.27,134.83 396.93,138.87 398.50,143.00C400.07,147.13 402.85,151.32 404.60,155.50C406.35,159.68 407.85,163.92 409.00,168.10C410.15,172.28 410.77,176.42 411.50,180.60C412.23,184.78 412.77,189.02 413.40,193.20C414.03,197.38 414.62,201.53 415.30,205.70C415.98,209.87 416.35,214.07 417.50,218.20C418.65,222.33 420.58,226.35 422.20,230.50C423.82,234.65 424.90,238.92 427.20,243.10C429.50,247.28 433.53,253.37 436.00,255.60C438.47,257.83 440.17,256.43 442.00,256.50C443.83,256.57 445.33,256.42 447.00,256.00C448.67,255.58 450.50,255.00 452.00,254.00C453.50,253.00 454.95,251.82 456.00,250.00C457.05,248.18 457.47,245.43 458.30,243.10C459.13,240.77 460.38,238.10 461.00,236.00C461.62,233.90 461.52,233.50 462.00,230.50C462.48,227.50 463.05,222.13 463.90,218.00C464.75,213.87 466.37,209.83 467.10,205.70C467.83,201.57 468.20,197.38 468.30,193.20C468.40,189.02 467.90,184.78 467.70,180.60C467.50,176.42 467.62,172.28 467.10,168.10C466.58,163.92 465.87,159.68 464.60,155.50C463.33,151.32 461.10,146.42 459.50,143.00C457.90,139.58 456.25,137.50 455.00,135.00C453.75,132.50 453.30,129.97 452.00,128.00C450.70,126.03 449.45,124.42 447.20,123.20C444.95,121.98 441.22,121.97 438.50,120.70C435.78,119.43 432.78,118.12 430.90,115.60C429.02,113.08 427.93,109.37 427.20,105.60C426.47,101.83 426.72,98.43 426.50,93.00C426.28,87.57 426.00,77.50 425.90,73.00C425.80,68.50 432.58,67.17 425.90,66.00C419.22,64.83 392.48,64.83 385.80,66.00Z" fill="#f5e4bc"/>
<path d="M540.80,139.50C542.68,139.52 544.23,139.37 545.80,140.10C547.37,140.83 549.15,142.58 550.20,143.90C551.25,145.22 551.58,146.07 552.10,148.00C552.62,149.93 552.47,152.15 553.30,155.50C554.13,158.85 556.05,163.92 557.10,168.10C558.15,172.28 558.97,176.42 559.60,180.60C560.23,184.78 560.58,189.02 560.90,193.20C561.22,197.38 561.23,201.57 561.50,205.70C561.77,209.83 562.72,213.87 562.50,218.00C562.28,222.13 560.88,226.32 560.20,230.50C559.52,234.68 559.33,238.92 558.40,243.10C557.47,247.28 555.83,251.78 554.60,255.60C553.37,259.42 552.25,263.07 551.00,266.00C549.75,268.93 548.27,272.53 547.10,273.20C545.93,273.87 545.02,271.53 544.00,270.00C542.98,268.47 541.95,266.40 541.00,264.00C540.05,261.60 539.38,259.08 538.30,255.60C537.22,252.12 535.58,246.30 534.50,243.10C533.42,239.90 533.22,239.08 531.80,236.40C530.38,233.72 527.63,230.07 526.00,227.00C524.37,223.93 523.22,221.13 522.00,218.00C520.78,214.87 519.82,212.33 518.70,208.20C517.58,204.07 515.87,197.80 515.30,193.20C514.73,188.60 515.08,184.78 515.30,180.60C515.52,176.42 516.07,171.53 516.60,168.10C517.13,164.67 517.77,162.52 518.50,160.00C519.23,157.48 520.00,155.17 521.00,153.00C522.00,150.83 523.08,148.83 524.50,147.00C525.92,145.17 527.83,143.17 529.50,142.00C531.17,140.83 532.62,140.42 534.50,140.00C536.38,139.58 538.92,139.48 540.80,139.50Z" fill="#f5e4bc"/>
<path d="M392.10,66.00C387.62,66.97 391.90,68.33 392.10,71.80C392.30,75.27 392.57,82.22 393.30,86.80C394.03,91.38 395.25,95.75 396.50,99.30C397.75,102.85 399.23,105.80 400.80,108.10C402.37,110.40 404.43,112.05 405.90,113.10C407.37,114.15 408.35,114.70 409.60,114.40C410.85,114.10 412.45,113.18 413.40,111.30C414.35,109.42 414.78,106.13 415.30,103.10C415.82,100.07 416.08,96.87 416.50,93.10C416.92,89.33 417.38,84.05 417.80,80.50C418.22,76.95 418.80,74.22 419.00,71.80C419.20,69.38 423.48,66.97 419.00,66.00C414.52,65.03 396.58,65.03 392.10,66.00Z" fill="#deb887"/>
<path d="M442.20,132.00C444.20,131.50 446.20,132.17 448.00,133.00C449.80,133.83 451.70,135.33 453.00,137.00C454.30,138.67 454.40,139.92 455.80,143.00C457.20,146.08 460.15,151.32 461.40,155.50C462.65,159.68 462.77,163.92 463.30,168.10C463.83,172.28 464.38,176.42 464.60,180.60C464.82,184.78 464.82,189.02 464.60,193.20C464.38,197.38 464.15,201.57 463.30,205.70C462.45,209.83 460.43,213.87 459.50,218.00C458.57,222.13 458.62,227.00 457.70,230.50C456.78,234.00 455.53,236.70 454.00,239.00C452.47,241.30 450.33,243.47 448.50,244.30C446.67,245.13 444.67,244.20 443.00,244.00C441.33,243.80 440.40,245.35 438.50,243.10C436.60,240.85 433.43,234.65 431.60,230.50C429.77,226.35 428.45,222.33 427.50,218.20C426.55,214.07 426.27,209.87 425.90,205.70C425.53,201.53 425.30,197.38 425.30,193.20C425.30,189.02 425.48,184.78 425.90,180.60C426.32,176.42 427.07,172.28 427.80,168.10C428.53,163.92 429.57,159.65 430.30,155.50C431.03,151.35 431.25,146.45 432.20,143.20C433.15,139.95 434.33,137.87 436.00,136.00C437.67,134.13 440.20,132.50 442.20,132.00Z" fill="#deb887"/>
<path d="M540.30,154.90C541.38,154.90 542.55,154.93 543.50,155.50C544.45,156.07 544.88,156.20 546.00,158.30C547.12,160.40 548.98,164.38 550.20,168.10C551.42,171.82 552.47,176.42 553.30,180.60C554.13,184.78 554.67,189.02 555.20,193.20C555.73,197.38 556.02,201.57 556.50,205.70C556.98,209.83 558.20,213.87 558.10,218.00C558.00,222.13 556.90,226.32 555.90,230.50C554.90,234.68 553.25,239.85 552.10,243.10C550.95,246.35 549.93,248.23 549.00,250.00C548.07,251.77 547.42,253.70 546.50,253.70C545.58,253.70 544.45,251.77 543.50,250.00C542.55,248.23 542.08,246.35 540.80,243.10C539.52,239.85 537.43,234.68 535.80,230.50C534.17,226.32 532.47,222.13 531.00,218.00C529.53,213.87 528.08,209.83 527.00,205.70C525.92,201.57 525.02,197.38 524.50,193.20C523.98,189.02 523.93,183.92 523.90,180.60C523.87,177.28 523.77,175.77 524.30,173.30C524.83,170.83 525.68,168.30 527.10,165.80C528.52,163.30 531.15,160.02 532.80,158.30C534.45,156.58 535.75,156.07 537.00,155.50C538.25,154.93 539.22,154.90 540.30,154.90Z" fill="#deb887"/>
<path d="M401.00,66.00C399.57,66.83 400.67,69.50 401.00,71.00C401.33,72.50 402.30,74.03 403.00,75.00C403.70,75.97 404.45,76.80 405.20,76.80C405.95,76.80 406.77,75.97 407.50,75.00C408.23,74.03 409.25,72.50 409.60,71.00C409.95,69.50 411.03,66.83 409.60,66.00C408.17,65.17 402.43,65.17 401.00,66.00Z" fill="#ffd700"/>
<path d="M446.00,142.00C447.63,141.92 449.30,142.00 450.80,143.00C452.30,144.00 453.75,145.92 455.00,148.00C456.25,150.08 457.43,152.15 458.30,155.50C459.17,158.85 459.68,163.92 460.20,168.10C460.72,172.28 461.20,176.42 461.40,180.60C461.60,184.78 461.60,189.02 461.40,193.20C461.20,197.38 460.93,201.57 460.20,205.70C459.47,209.83 458.37,214.28 457.00,218.00C455.63,221.72 453.83,225.17 452.00,228.00C450.17,230.83 448.05,234.58 446.00,235.00C443.95,235.42 441.62,233.32 439.70,230.50C437.78,227.68 435.85,222.23 434.50,218.10C433.15,213.97 432.20,209.85 431.60,205.70C431.00,201.55 430.90,197.38 430.90,193.20C430.90,189.02 431.18,184.78 431.60,180.60C432.02,176.42 432.67,172.28 433.40,168.10C434.13,163.92 434.73,159.60 436.00,155.50C437.27,151.40 439.33,145.75 441.00,143.50C442.67,141.25 444.37,142.08 446.00,142.00Z" fill="#ffd700"/>
<path d="M540.20,171.80C541.37,171.80 542.35,172.53 543.50,174.00C544.65,175.47 545.98,177.40 547.10,180.60C548.22,183.80 549.37,189.02 550.20,193.20C551.03,197.38 551.58,201.55 552.10,205.70C552.62,209.85 553.72,213.97 553.30,218.10C552.88,222.23 550.73,227.80 549.60,230.50C548.47,233.20 547.55,234.30 546.50,234.30C545.45,234.30 544.77,233.20 543.30,230.50C541.83,227.80 539.17,222.23 537.70,218.10C536.23,213.97 535.45,209.85 534.50,205.70C533.55,201.55 532.20,197.38 532.00,193.20C531.80,189.02 532.55,183.80 533.30,180.60C534.05,177.40 535.35,175.47 536.50,174.00C537.65,172.53 539.03,171.80 540.20,171.80Z" fill="#ffd700"/>
<path d="M446.00,153.70C447.38,153.20 449.08,153.70 450.50,154.00C451.92,154.30 453.42,153.15 454.50,155.50C455.58,157.85 456.37,163.92 457.00,168.10C457.63,172.28 457.98,176.42 458.30,180.60C458.62,184.78 459.12,189.02 458.90,193.20C458.68,197.38 457.73,202.07 457.00,205.70C456.27,209.33 455.67,212.28 454.50,215.00C453.33,217.72 451.42,220.67 450.00,222.00C448.58,223.33 447.42,223.33 446.00,223.00C444.58,222.67 442.55,220.80 441.50,220.00C440.45,219.20 440.42,220.58 439.70,218.20C438.98,215.82 437.82,209.87 437.20,205.70C436.58,201.53 436.10,197.38 436.00,193.20C435.90,189.02 436.18,184.78 436.60,180.60C437.02,176.42 437.57,172.03 438.50,168.10C439.43,164.17 440.95,159.40 442.20,157.00C443.45,154.60 444.62,154.20 446.00,153.70Z" fill="#ffa500"/>
<path d="M544.00,201.50C544.42,201.08 545.50,201.08 546.00,201.50C546.50,201.92 547.00,203.00 547.00,204.00C547.00,205.00 546.42,207.00 546.00,207.50C545.58,208.00 544.92,207.58 544.50,207.00C544.08,206.42 543.58,204.92 543.50,204.00C543.42,203.08 543.58,201.92 544.00,201.50Z" fill="#ffa500"/>
<path d="M447.00,180.00C447.83,179.83 449.00,181.50 449.50,183.00C450.00,184.50 450.08,187.17 450.00,189.00C449.92,190.83 449.47,192.37 449.00,194.00C448.53,195.63 447.87,198.63 447.20,198.80C446.53,198.97 445.62,196.57 445.00,195.00C444.38,193.43 443.58,191.23 443.50,189.40C443.42,187.57 443.92,185.57 444.50,184.00C445.08,182.43 446.17,180.17 447.00,180.00Z" fill="#ff4500"/>
<path d="M457.70,66.00C433.82,66.97 457.50,69.38 457.70,71.80C457.90,74.22 458.38,76.95 458.90,80.50C459.42,84.05 460.07,88.92 460.80,93.10C461.53,97.28 462.25,101.42 463.30,105.60C464.35,109.78 465.85,114.02 467.10,118.20C468.35,122.38 469.23,126.53 470.80,130.70C472.37,134.87 474.30,139.07 476.50,143.20C478.70,147.33 481.75,151.87 484.00,155.50C486.25,159.13 488.33,162.38 490.00,165.00C491.67,167.62 492.67,171.03 494.00,171.20C495.33,171.37 496.53,168.62 498.00,166.00C499.47,163.38 500.85,159.33 502.80,155.50C504.75,151.67 507.30,147.13 509.70,143.00C512.10,138.87 515.15,134.22 517.20,130.70C519.25,127.18 520.57,124.83 522.00,121.90C523.43,118.97 524.55,116.02 525.80,113.10C527.05,110.18 528.05,107.12 529.50,104.40C530.95,101.68 532.62,99.10 534.50,96.80C536.38,94.50 538.70,92.68 540.80,90.60C542.90,88.52 545.32,85.73 547.10,84.30C548.88,82.87 550.03,82.00 551.50,82.00C552.97,82.00 554.33,83.08 555.90,84.30C557.47,85.52 559.33,87.83 560.90,89.30C562.47,90.77 563.85,92.37 565.30,93.10C566.75,93.83 568.03,93.92 569.60,93.70C571.17,93.48 573.12,92.32 574.70,91.80C576.28,91.28 577.95,90.38 579.10,90.60C580.25,90.82 580.88,91.65 581.60,93.10C582.32,94.55 582.67,96.80 583.40,99.30C584.13,101.80 585.15,105.17 586.00,108.10C586.85,111.03 587.47,114.38 588.50,116.90C589.53,119.42 591.05,121.53 592.20,123.20C593.35,124.87 593.93,126.10 595.40,126.90C596.87,127.70 600.07,138.15 601.00,128.00C601.93,117.85 624.88,76.33 601.00,66.00C577.12,55.67 481.58,65.03 457.70,66.00Z" fill="#b0e0e6"/>
<path d="M449.00,297.00C436.08,295.95 449.00,293.42 449.50,290.70C450.00,287.98 450.75,283.48 452.00,280.70C453.25,277.92 455.12,276.08 457.00,274.00C458.88,271.92 461.32,271.27 463.30,268.20C465.28,265.13 467.12,259.78 468.90,255.60C470.68,251.42 472.63,247.28 474.00,243.10C475.37,238.92 475.95,234.65 477.10,230.50C478.25,226.35 479.87,220.87 480.90,218.20C481.93,215.53 482.47,215.65 483.30,214.50C484.13,213.35 485.12,211.10 485.90,211.30C486.68,211.50 486.75,214.75 488.00,215.70C489.25,216.65 491.45,216.58 493.40,217.00C495.35,217.42 497.82,215.95 499.70,218.20C501.58,220.45 503.25,226.35 504.70,230.50C506.15,234.65 506.93,238.92 508.40,243.10C509.87,247.28 511.72,251.42 513.50,255.60C515.28,259.78 517.65,264.02 519.10,268.20C520.55,272.38 520.97,277.40 522.20,280.70C523.43,284.00 525.70,285.28 526.50,288.00C527.30,290.72 539.92,295.50 527.00,297.00C514.08,298.50 461.92,298.05 449.00,297.00Z" fill="#b0e0e6"/>
<path d="M567.10,297.00C561.45,296.17 566.98,294.72 567.10,292.00C567.22,289.28 567.17,284.67 567.80,280.70C568.43,276.73 569.75,271.23 570.90,268.20C572.05,265.17 573.45,262.93 574.70,262.50C575.95,262.07 576.95,264.03 578.40,265.60C579.85,267.17 581.83,270.22 583.40,271.90C584.97,273.58 586.43,275.70 587.80,275.70C589.17,275.70 590.33,273.37 591.60,271.90C592.87,270.43 593.83,268.55 595.40,266.90C596.97,265.25 600.07,256.98 601.00,262.00C601.93,267.02 606.65,291.17 601.00,297.00C595.35,302.83 572.75,297.83 567.10,297.00Z" fill="#b0e0e6"/>
<path d="M479.90,101.20C480.82,101.20 481.72,101.42 482.50,101.80C483.28,102.18 484.43,102.55 484.60,103.50C484.77,104.45 484.18,106.20 483.50,107.50C482.82,108.80 481.50,111.30 480.50,111.30C479.50,111.30 478.38,108.72 477.50,107.50C476.62,106.28 475.28,104.95 475.20,104.00C475.12,103.05 476.22,102.27 477.00,101.80C477.78,101.33 478.98,101.20 479.90,101.20Z" fill="#20b2aa"/>
<path d="M465.00,66.00C452.83,67.12 464.67,70.70 465.00,72.70C465.33,74.70 466.33,76.17 467.00,78.00C467.67,79.83 468.15,82.50 469.00,83.70C469.85,84.90 470.67,85.33 472.10,85.20C473.53,85.07 475.77,83.93 477.60,82.90C479.43,81.87 481.53,79.13 483.10,79.00C484.67,78.87 485.93,80.27 487.00,82.10C488.07,83.93 488.72,87.13 489.50,90.00C490.28,92.87 490.80,95.13 491.70,99.30C492.60,103.47 493.85,109.77 494.90,115.00C495.95,120.23 496.97,127.17 498.00,130.70C499.03,134.23 500.05,135.68 501.10,136.20C502.15,136.72 502.98,135.50 504.30,133.80C505.62,132.10 507.18,128.60 509.00,126.00C510.82,123.40 512.85,120.82 515.20,118.20C517.55,115.58 520.75,113.45 523.10,110.30C525.45,107.15 527.48,103.22 529.30,99.30C531.12,95.38 532.68,90.97 534.00,86.80C535.32,82.63 536.53,77.77 537.20,74.30C537.87,70.83 550.03,67.38 538.00,66.00C525.97,64.62 477.17,64.88 465.00,66.00Z" fill="#7b9ef0"/>
<path d="M462.70,287.00C463.55,284.28 465.53,282.48 467.10,280.70C468.67,278.92 470.53,277.35 472.10,276.30C473.67,275.25 475.35,274.40 476.50,274.40C477.65,274.40 478.80,274.62 479.00,276.30C479.20,277.98 478.53,282.10 477.70,284.50C476.87,286.90 474.95,288.62 474.00,290.70C473.05,292.78 474.00,295.95 472.00,297.00C470.00,298.05 463.55,298.67 462.00,297.00C460.45,295.33 461.85,289.72 462.70,287.00Z" fill="#7b9ef0"/>
<path d="M494.10,66.00C489.20,67.12 493.72,69.75 494.10,72.70C494.48,75.65 495.48,79.27 496.40,83.70C497.32,88.13 498.55,95.12 499.60,99.30C500.65,103.48 501.67,106.43 502.70,108.80C503.73,111.17 504.75,113.25 505.80,113.50C506.85,113.75 507.68,112.67 509.00,110.30C510.32,107.93 512.13,103.22 513.70,99.30C515.27,95.38 516.97,90.72 518.40,86.80C519.83,82.88 521.52,78.15 522.30,75.80C523.08,73.45 522.90,74.33 523.10,72.70C523.30,71.07 528.33,67.12 523.50,66.00C518.67,64.88 499.00,64.88 494.10,66.00Z" fill="#4169e1"/>
<path d="M498.00,66.00C495.17,67.12 497.62,69.75 498.00,72.70C498.38,75.65 499.25,80.70 500.30,83.70C501.35,86.70 503.25,89.27 504.30,90.70C505.35,92.13 505.70,92.43 506.60,92.30C507.50,92.17 508.65,91.60 509.70,89.90C510.75,88.20 512.03,84.97 512.90,82.10C513.77,79.23 514.55,75.38 514.90,72.70C515.25,70.02 517.82,67.12 515.00,66.00C512.18,64.88 500.83,64.88 498.00,66.00Z" fill="#0000cd"/>
</g>
<rect x="375.5" y="71.0" width="220.5" height="221.3" fill="none" stroke="#000" stroke-width="1.5"/>
<path d="M586.02,71.0V67.8M586.02,292.3V295.5M573.48,71.0V67.8M573.48,292.3V295.5M548.42,71.0V67.8M548.42,292.3V295.5M535.88,71.0V67.8M535.88,292.3V295.5M510.82,71.0V67.8M510.82,292.3V295.5M498.28,71.0V67.8M498.28,292.3V295.5M473.22,71.0V67.8M473.22,292.3V295.5M460.68,71.0V67.8M460.68,292.3V295.5M435.62,71.0V67.8M435.62,292.3V295.5M423.08,71.0V67.8M423.08,292.3V295.5M398.02,71.0V67.8M398.02,292.3V295.5M385.48,71.0V67.8M385.48,292.3V295.5" stroke="#222" stroke-width="1.0" fill="none"/>
<path d="M560.95,71.0V64.7M560.95,292.3V298.6M523.35,71.0V64.7M523.35,292.3V298.6M485.75,71.0V64.7M485.75,292.3V298.6M448.15,71.0V64.7M448.15,292.3V298.6M410.55,71.0V64.7M410.55,292.3V298.6M375.5,71.00H369.0M375.5,103.24H369.0M375.5,124.47H369.0M375.5,146.98H369.0M375.5,172.57H369.0M375.5,190.73H369.0M375.5,204.81H369.0M375.5,216.32H369.0M375.5,234.47H369.0M375.5,248.56H369.0M375.5,269.79H369.0M375.5,282.04H369.0M375.5,292.30H369.0M596.0,109.50H602.5M596.0,149.00H602.5M596.0,189.00H602.5M596.0,227.50H602.5M596.0,261.50H602.5" stroke="#000" stroke-width="1.3" fill="none"/>
<text x="410.55" y="310.50" font-family='"Liberation Sans", sans-serif' font-size="9.5" text-anchor="middle" >60N</text>
<text x="448.15" y="310.50" font-family='"Liberation Sans", sans-serif' font-size="9.5" text-anchor="middle" >30N</text>
<text x="485.75" y="310.50" font-family='"Liberation Sans", sans-serif' font-size="9.5" text-anchor="middle" >0</text>
<text x="523.35" y="310.50" font-family='"Liberation Sans", sans-serif' font-size="9.5" text-anchor="middle" >30S</text>
<text x="560.95" y="310.50" font-family='"Liberation Sans", sans-serif' font-size="9.5" text-anchor="middle" >60S</text>
<text x="363.90" y="74.60" font-family='"Liberation Sans", sans-serif' font-size="9.6" text-anchor="end" >30</text>
<text x="363.90" y="106.84" font-family='"Liberation Sans", sans-serif' font-size="9.6" text-anchor="end" >50</text>
<text x="363.90" y="128.07" font-family='"Liberation Sans", sans-serif' font-size="9.6" text-anchor="end" >70</text>
<text x="363.90" y="150.58" font-family='"Liberation Sans", sans-serif' font-size="9.6" text-anchor="end" >100</text>
<text x="363.90" y="176.17" font-family='"Liberation Sans", sans-serif' font-size="9.6" text-anchor="end" >150</text>
<text x="363.90" y="194.33" font-family='"Liberation Sans", sans-serif' font-size="9.6" text-anchor="end" >200</text>
<text x="363.90" y="208.41" font-family='"Liberation Sans", sans-serif' font-size="9.6" text-anchor="end" >250</text>
<text x="363.90" y="219.92" font-family='"Liberation Sans", sans-serif' font-size="9.6" text-anchor="end" >300</text>
<text x="363.90" y="238.07" font-family='"Liberation Sans", sans-serif' font-size="9.6" text-anchor="end" >400</text>
<text x="363.90" y="252.16" font-family='"Liberation Sans", sans-serif' font-size="9.6" text-anchor="end" >500</text>
<text x="363.90" y="273.39" font-family='"Liberation Sans", sans-serif' font-size="9.6" text-anchor="end" >700</text>
<text x="363.90" y="285.64" font-family='"Liberation Sans", sans-serif' font-size="9.6" text-anchor="end" >850</text>
<text x="363.90" y="295.90" font-family='"Liberation Sans", sans-serif' font-size="9.6" text-anchor="end" >1000</text>
<text x="607.20" y="113.00" font-family='"Liberation Sans", sans-serif' font-size="9.6" text-anchor="start" >20</text>
<text x="607.20" y="152.50" font-family='"Liberation Sans", sans-serif' font-size="9.6" text-anchor="start" >16</text>
<text x="607.20" y="192.50" font-family='"Liberation Sans", sans-serif' font-size="9.6" text-anchor="start" >12</text>
<text x="607.20" y="231.00" font-family='"Liberation Sans", sans-serif' font-size="9.6" text-anchor="start" >8</text>
<text x="607.20" y="265.00" font-family='"Liberation Sans", sans-serif' font-size="9.6" text-anchor="start" >4</text>
<text transform="translate(333.8,181.65) rotate(-90) scale(1.12,1)" x="0" y="0" font-family='"Liberation Serif", serif' font-size="15" text-anchor="middle" textLength="95.27" lengthAdjust="spacing" stroke="#fff" stroke-width="0.2">Pressure (mb)</text>
<text transform="translate(635.5,181.65) rotate(-90) scale(1.12,1)" x="0" y="0" font-family='"Liberation Serif", serif' font-size="15" text-anchor="middle" textLength="80.80" lengthAdjust="spacing" stroke="#fff" stroke-width="0.2">Height (km)</text>
<text x="461.50" y="41.70" font-family='"Liberation Serif", serif' font-size="14.8" text-anchor="start" textLength="47.70" lengthAdjust="spacingAndGlyphs"  stroke="#fff" stroke-width="0.2">ECMWF</text>
<text transform="translate(374.80,64.10) scale(1.12,1)" x="0" y="0" font-family='"Liberation Serif", serif' font-size="12.6" text-anchor="start" textLength="64.64" lengthAdjust="spacing"  stroke="#fff" stroke-width="0.2">zonal wind</text>
<text x="568.90" y="62.00" font-family='"Liberation Serif", serif' font-size="12.6" text-anchor="start" textLength="28.00" lengthAdjust="spacingAndGlyphs"  stroke="#fff" stroke-width="0.2">m/s</text>
<clipPath id="c3"><rect x="214.5" y="424.0" width="220.5" height="221.29999999999995"/></clipPath>
<g clip-path="url(#c3)">
<rect x="0" y="0" width="638" height="664" fill="#deb887"/>
<path d="M216.60,419.00C205.52,419.97 216.48,422.38 216.60,424.80C216.72,427.22 216.98,430.37 217.30,433.50C217.62,436.63 217.98,440.47 218.50,443.60C219.02,446.73 219.35,450.00 220.40,452.30C221.45,454.60 223.23,455.93 224.80,457.40C226.37,458.87 227.92,459.75 229.80,461.10C231.68,462.45 233.58,464.35 236.10,465.50C238.62,466.65 242.60,468.20 244.90,468.00C247.20,467.80 248.23,465.65 249.90,464.30C251.57,462.95 253.02,461.05 254.90,459.90C256.78,458.75 259.32,458.67 261.20,457.40C263.08,456.13 264.63,453.87 266.20,452.30C267.77,450.73 269.25,448.52 270.60,448.00C271.95,447.48 273.15,448.27 274.30,449.20C275.45,450.13 276.77,451.62 277.50,453.60C278.23,455.58 278.40,457.75 278.70,461.10C279.00,464.45 279.30,469.93 279.30,473.70C279.30,477.47 279.08,480.78 278.70,483.70C278.32,486.62 277.70,488.82 277.00,491.20C276.30,493.58 275.27,495.70 274.50,498.00C273.73,500.30 272.95,502.20 272.40,505.00C271.85,507.80 271.50,511.08 271.20,514.80C270.90,518.52 270.50,523.12 270.60,527.30C270.70,531.48 271.28,536.13 271.80,539.90C272.32,543.67 272.87,547.40 273.70,549.90C274.53,552.40 275.75,554.33 276.80,554.90C277.85,555.47 278.57,554.02 280.00,553.30C281.43,552.58 283.45,551.50 285.40,550.60C287.35,549.70 289.58,548.95 291.70,547.90C293.82,546.85 296.28,545.82 298.10,544.30C299.92,542.78 301.40,540.77 302.60,538.80C303.80,536.83 304.55,534.75 305.30,532.50C306.05,530.25 306.35,527.40 307.10,525.30C307.85,523.20 308.60,521.33 309.80,519.90C311.00,518.47 312.77,517.43 314.30,516.70C315.83,515.97 317.48,515.87 319.00,515.50C320.52,515.13 322.23,515.25 323.40,514.50C324.57,513.75 324.88,512.30 326.00,511.00C327.12,509.70 328.48,508.20 330.10,506.70C331.72,505.20 333.97,503.10 335.70,502.00C337.43,500.90 340.50,500.88 340.50,500.10C340.50,499.32 337.75,498.23 335.70,497.30C333.65,496.37 331.02,495.45 328.20,494.50C325.38,493.55 321.62,492.70 318.80,491.60C315.98,490.50 313.18,489.93 311.30,487.90C309.42,485.87 308.60,482.38 307.50,479.40C306.40,476.42 305.98,472.83 304.70,470.00C303.42,467.17 301.25,464.50 299.80,462.40C298.35,460.30 297.47,459.28 296.00,457.40C294.53,455.52 292.42,452.57 291.00,451.10C289.58,449.63 288.50,449.85 287.50,448.60C286.50,447.35 285.63,446.12 285.00,443.60C284.37,441.08 284.02,436.63 283.70,433.50C283.38,430.37 283.20,427.22 283.10,424.80C283.00,422.38 294.18,419.97 283.10,419.00C272.02,418.03 227.68,418.03 216.60,419.00Z" fill="#ffd700"/>
<path d="M341.40,419.00C328.83,420.15 341.00,422.72 341.40,425.90C341.80,429.08 342.85,434.50 343.80,438.10C344.75,441.70 346.02,444.68 347.10,447.50C348.18,450.32 349.83,452.58 350.30,455.00C350.77,457.42 350.20,460.00 349.90,462.00C349.60,464.00 349.07,465.17 348.50,467.00C347.93,468.83 347.05,470.93 346.50,473.00C345.95,475.07 345.58,476.77 345.20,479.40C344.82,482.03 344.28,485.98 344.20,488.80C344.12,491.62 344.53,494.42 344.70,496.30C344.87,498.18 344.97,498.83 345.20,500.10C345.43,501.37 345.63,502.17 346.10,503.90C346.57,505.63 347.37,508.32 348.00,510.50C348.63,512.68 349.35,514.82 349.90,517.00C350.45,519.18 350.87,521.43 351.30,523.60C351.73,525.77 352.00,527.28 352.50,530.00C353.00,532.72 353.68,536.17 354.30,539.90C354.92,543.63 355.57,548.23 356.20,552.40C356.83,556.57 357.52,561.63 358.10,564.90C358.68,568.17 359.23,569.82 359.70,572.00C360.17,574.18 360.50,574.98 360.90,578.00C361.30,581.02 361.58,586.08 362.10,590.10C362.62,594.12 363.28,598.08 364.00,602.10C364.72,606.12 365.60,610.18 366.40,614.20C367.20,618.22 368.20,622.18 368.80,626.20C369.40,630.22 369.70,635.23 370.00,638.30C370.30,641.37 370.50,642.65 370.60,644.60C370.70,646.55 368.70,649.10 370.60,650.00C372.50,650.90 380.10,650.83 382.00,650.00C383.90,649.17 381.97,648.33 382.00,645.00C382.03,641.67 382.07,635.17 382.20,630.00C382.33,624.83 382.53,620.65 382.80,614.00C383.07,607.35 383.43,598.10 383.80,590.10C384.17,582.10 384.55,571.85 385.00,566.00C385.45,560.15 385.92,559.33 386.50,555.00C387.08,550.67 387.83,545.00 388.50,540.00C389.17,535.00 389.83,529.17 390.50,525.00C391.17,520.83 391.88,517.75 392.50,515.00C393.12,512.25 393.80,510.83 394.20,508.50C394.60,506.17 394.48,504.72 394.90,501.00C395.32,497.28 395.87,490.75 396.70,486.20C397.53,481.65 398.53,477.88 399.90,473.70C401.27,469.52 403.13,465.28 404.90,461.10C406.67,456.92 408.93,452.78 410.50,448.60C412.07,444.42 413.25,439.97 414.30,436.00C415.35,432.03 416.38,427.63 416.80,424.80C417.22,421.97 429.37,419.97 416.80,419.00C404.23,418.03 353.97,417.85 341.40,419.00Z" fill="#ffd700"/>
<path d="M302.30,419.00C300.10,419.97 301.98,422.80 302.30,424.80C302.62,426.80 303.57,429.23 304.20,431.00C304.83,432.77 305.17,434.98 306.10,435.40C307.03,435.82 308.65,434.43 309.80,433.50C310.95,432.57 312.05,431.25 313.00,429.80C313.95,428.35 315.08,426.60 315.50,424.80C315.92,423.00 317.70,419.97 315.50,419.00C313.30,418.03 304.50,418.03 302.30,419.00Z" fill="#ffd700"/>
<path d="M269.90,650.00C267.92,649.17 269.48,647.30 269.90,645.00C270.32,642.70 271.25,639.23 272.40,636.20C273.55,633.17 275.53,627.22 276.80,626.80C278.07,626.38 279.17,630.67 280.00,633.70C280.83,636.73 281.50,642.28 281.80,645.00C282.10,647.72 283.78,649.17 281.80,650.00C279.82,650.83 271.88,650.83 269.90,650.00Z" fill="#ffd700"/>
<path d="M231.70,419.00C228.88,419.97 231.38,423.00 231.70,424.80C232.02,426.60 232.87,428.35 233.60,429.80C234.33,431.25 235.07,432.50 236.10,433.50C237.13,434.50 238.55,435.48 239.80,435.80C241.05,436.12 242.55,435.98 243.60,435.40C244.65,434.82 245.37,433.65 246.10,432.30C246.83,430.95 247.58,428.55 248.00,427.30C248.42,426.05 248.50,426.18 248.60,424.80C248.70,423.42 251.42,419.97 248.60,419.00C245.78,418.03 234.52,418.03 231.70,419.00Z" fill="#ffa500"/>
<path d="M292.00,476.00C292.87,475.18 294.12,476.07 295.00,476.30C295.88,476.53 296.50,476.17 297.30,477.40C298.10,478.63 298.97,481.40 299.80,483.70C300.63,486.00 301.67,488.48 302.30,491.20C302.93,493.92 303.50,497.95 303.60,500.00C303.70,502.05 303.53,501.03 302.90,503.50C302.27,505.97 300.95,511.45 299.80,514.80C298.65,518.15 297.47,521.15 296.00,523.60C294.53,526.05 292.50,528.52 291.00,529.50C289.50,530.48 288.00,530.28 287.00,529.50C286.00,528.72 285.43,528.30 285.00,524.80C284.57,521.30 284.40,513.30 284.40,508.50C284.40,503.70 284.80,498.47 285.00,496.00C285.20,493.53 285.18,495.33 285.60,493.70C286.02,492.07 286.80,488.28 287.50,486.20C288.20,484.12 289.05,482.90 289.80,481.20C290.55,479.50 291.13,476.82 292.00,476.00Z" fill="#ffa500"/>
<path d="M367.30,419.00C360.30,420.15 367.62,422.72 367.30,425.90C366.98,429.08 366.12,433.72 365.40,438.10C364.68,442.48 363.87,447.50 363.00,452.20C362.13,456.90 361.05,462.38 360.20,466.30C359.35,470.22 358.52,472.75 357.90,475.70C357.28,478.65 356.78,480.62 356.50,484.00C356.22,487.38 355.93,491.92 356.20,496.00C356.47,500.08 357.47,504.32 358.10,508.50C358.73,512.68 359.48,516.92 360.00,521.10C360.52,525.28 360.78,529.42 361.20,533.60C361.62,537.78 362.08,542.02 362.50,546.20C362.92,550.38 363.12,555.07 363.70,558.70C364.28,562.33 365.45,564.78 366.00,568.00C366.55,571.22 366.73,574.32 367.00,578.00C367.27,581.68 367.20,586.08 367.60,590.10C368.00,594.12 368.67,598.78 369.40,602.10C370.13,605.42 371.30,608.08 372.00,610.00C372.70,611.92 373.02,613.60 373.60,613.60C374.18,613.60 375.00,611.92 375.50,610.00C376.00,608.08 376.02,605.42 376.60,602.10C377.18,598.78 378.18,594.12 379.00,590.10C379.82,586.08 380.92,582.02 381.50,578.00C382.08,573.98 382.00,569.83 382.50,566.00C383.00,562.17 383.83,559.33 384.50,555.00C385.17,550.67 385.83,545.00 386.50,540.00C387.17,535.00 387.95,530.25 388.50,525.00C389.05,519.75 389.55,513.33 389.80,508.50C390.05,503.67 389.72,500.08 390.00,496.00C390.28,491.92 390.90,488.17 391.50,484.00C392.10,479.83 392.78,474.73 393.60,471.00C394.42,467.27 395.33,464.57 396.40,461.60C397.47,458.63 398.80,455.78 400.00,453.20C401.20,450.62 402.27,449.38 403.60,446.10C404.93,442.82 407.05,437.05 408.00,433.50C408.95,429.95 409.08,427.22 409.30,424.80C409.52,422.38 416.30,419.97 409.30,419.00C402.30,418.03 374.30,417.85 367.30,419.00Z" fill="#ffa500"/>
<path d="M382.30,428.20C383.23,428.20 383.65,434.10 384.20,438.10C384.75,442.10 385.20,447.50 385.60,452.20C386.00,456.90 386.37,461.00 386.60,466.30C386.83,471.60 387.02,479.05 387.00,484.00C386.98,488.95 386.67,491.92 386.50,496.00C386.33,500.08 386.17,504.32 386.00,508.50C385.83,512.68 385.80,515.87 385.50,521.10C385.20,526.33 384.73,534.68 384.20,539.90C383.67,545.12 382.92,548.22 382.30,552.40C381.68,556.58 381.30,561.07 380.50,565.00C379.70,568.93 378.55,572.25 377.50,576.00C376.45,579.75 375.20,587.33 374.20,587.50C373.20,587.67 372.20,580.58 371.50,577.00C370.80,573.42 370.50,569.67 370.00,566.00C369.50,562.33 369.08,558.33 368.50,555.00C367.92,551.67 367.12,549.57 366.50,546.00C365.88,542.43 365.20,539.85 364.80,533.60C364.40,527.35 364.23,514.77 364.10,508.50C363.97,502.23 364.02,500.08 364.00,496.00C363.98,491.92 363.77,487.53 364.00,484.00C364.23,480.47 364.53,478.22 365.40,474.80C366.27,471.38 367.78,467.27 369.20,463.50C370.62,459.73 372.33,456.43 373.90,452.20C375.47,447.97 377.20,442.10 378.60,438.10C380.00,434.10 381.37,428.20 382.30,428.20Z" fill="#ff4500"/>
<path d="M375.30,479.30C376.13,479.30 377.25,479.85 378.00,481.00C378.75,482.15 379.18,483.67 379.80,486.20C380.42,488.73 381.18,492.48 381.70,496.20C382.22,499.92 382.90,503.32 382.90,508.50C382.90,513.68 382.22,521.45 381.70,527.30C381.18,533.15 380.43,539.00 379.80,543.60C379.17,548.20 378.63,552.17 377.90,554.90C377.17,557.63 376.02,560.00 375.40,560.00C374.78,560.00 374.72,557.63 374.20,554.90C373.68,552.17 372.93,548.20 372.30,543.60C371.67,539.00 371.03,533.15 370.40,527.30C369.77,521.45 368.87,513.68 368.50,508.50C368.13,503.32 367.78,499.92 368.20,496.20C368.62,492.48 370.20,488.73 371.00,486.20C371.80,483.67 372.28,482.15 373.00,481.00C373.72,479.85 374.47,479.30 375.30,479.30Z" fill="#b22222"/>
<path d="M375.40,509.20C376.07,509.20 376.97,513.40 377.50,516.00C378.03,518.60 378.60,522.47 378.60,524.80C378.60,527.13 377.97,528.32 377.50,530.00C377.03,531.68 376.38,534.90 375.80,534.90C375.22,534.90 374.48,531.68 374.00,530.00C373.52,528.32 372.98,527.13 372.90,524.80C372.82,522.47 373.08,518.60 373.50,516.00C373.92,513.40 374.73,509.20 375.40,509.20Z" fill="#ffb6c1"/>
<path d="M209.00,480.00C209.97,451.67 213.22,478.97 214.80,480.00C216.38,481.03 216.83,483.92 218.50,486.20C220.17,488.48 222.92,493.07 224.80,493.70C226.68,494.33 227.72,490.83 229.80,490.00C231.88,489.17 234.78,488.82 237.30,488.70C239.82,488.58 242.60,489.20 244.90,489.30C247.20,489.40 249.43,488.77 251.10,489.30C252.77,489.83 253.95,491.05 254.90,492.50C255.85,493.95 256.28,495.92 256.80,498.00C257.32,500.08 257.58,503.25 258.00,505.00C258.42,506.75 258.57,504.78 259.30,508.50C260.03,512.22 261.25,521.02 262.40,527.30C263.55,533.58 264.95,539.92 266.20,546.20C267.45,552.48 269.07,559.82 269.90,565.00C270.73,570.18 271.18,573.13 271.20,577.30C271.22,581.47 270.32,584.78 270.00,590.00C269.68,595.22 269.80,603.60 269.30,608.60C268.80,613.60 267.73,615.82 267.00,620.00C266.27,624.18 265.57,629.53 264.90,633.70C264.23,637.87 263.32,642.28 263.00,645.00C262.68,647.72 272.00,649.17 263.00,650.00C254.00,650.83 218.00,678.33 209.00,650.00C200.00,621.67 208.03,508.33 209.00,480.00Z" fill="#f5e4bc"/>
<path d="M336.80,419.00C339.73,419.97 336.70,423.22 336.80,424.80C336.90,426.38 336.98,426.42 337.40,428.50C337.82,430.58 338.57,434.37 339.30,437.30C340.03,440.23 341.10,443.15 341.80,446.10C342.50,449.05 343.33,450.85 343.50,455.00C343.67,459.15 343.07,466.77 342.80,471.00C342.53,475.23 342.58,477.87 341.90,480.40C341.22,482.93 339.77,484.92 338.70,486.20C337.63,487.48 337.18,488.10 335.50,488.10C333.82,488.10 331.00,486.93 328.60,486.20C326.20,485.47 323.40,484.75 321.10,483.70C318.80,482.65 316.57,481.78 314.80,479.90C313.03,478.02 311.85,475.32 310.50,472.40C309.15,469.48 307.55,465.12 306.70,462.40C305.85,459.68 305.08,458.40 305.40,456.10C305.72,453.80 307.33,451.32 308.60,448.60C309.87,445.88 311.47,442.73 313.00,439.80C314.53,436.87 316.77,433.50 317.80,431.00C318.83,428.50 318.97,426.80 319.20,424.80C319.43,422.80 316.27,419.97 319.20,419.00C322.13,418.03 333.87,418.03 336.80,419.00Z" fill="#f5e4bc"/>
<path d="M287.50,567.00C288.02,564.83 289.75,565.13 291.00,564.30C292.25,563.47 293.82,562.72 295.00,562.00C296.18,561.28 296.98,561.30 298.10,560.00C299.22,558.70 300.20,556.22 301.70,554.20C303.20,552.18 305.60,550.00 307.10,547.90C308.60,545.80 309.20,543.87 310.70,541.60C312.20,539.33 314.13,537.02 316.10,534.30C318.07,531.58 320.77,527.52 322.50,525.30C324.23,523.08 325.25,522.20 326.50,521.00C327.75,519.80 328.92,518.62 330.00,518.10C331.08,517.58 332.05,517.60 333.00,517.90C333.95,518.20 334.62,518.48 335.70,519.90C336.78,521.32 338.48,523.48 339.50,526.40C340.52,529.32 340.90,534.10 341.80,537.40C342.70,540.70 343.75,543.70 344.90,546.20C346.05,548.70 347.55,550.53 348.70,552.40C349.85,554.27 350.97,555.30 351.80,557.40C352.63,559.50 353.08,562.90 353.70,565.00C354.32,567.10 355.00,567.83 355.50,570.00C356.00,572.17 356.30,574.65 356.70,578.00C357.10,581.35 357.40,586.08 357.90,590.10C358.40,594.12 359.00,598.08 359.70,602.10C360.40,606.12 361.28,610.18 362.10,614.20C362.92,618.22 363.78,622.18 364.60,626.20C365.42,630.22 366.50,635.17 367.00,638.30C367.50,641.43 367.50,643.05 367.60,645.00C367.70,646.95 380.95,649.17 367.60,650.00C354.25,650.83 300.85,656.90 287.50,650.00C274.15,643.10 287.43,620.72 287.50,608.60C287.57,596.48 287.90,584.23 287.90,577.30C287.90,570.37 286.98,569.17 287.50,567.00Z" fill="#f5e4bc"/>
<path d="M398.60,501.00C399.55,498.12 400.93,494.92 402.40,491.20C403.87,487.48 405.73,482.67 407.40,478.70C409.07,474.73 410.93,470.95 412.40,467.40C413.87,463.85 415.05,460.75 416.20,457.40C417.35,454.05 418.27,449.82 419.30,447.30C420.33,444.78 421.35,442.72 422.40,442.30C423.45,441.88 424.65,443.33 425.60,444.80C426.55,446.27 427.17,449.63 428.10,451.10C429.03,452.57 430.37,453.82 431.20,453.60C432.03,453.38 432.52,452.10 433.10,449.80C433.68,447.50 433.55,441.93 434.70,439.80C435.85,437.67 439.12,401.97 440.00,437.00C440.88,472.03 449.25,614.50 440.00,650.00C430.75,685.50 393.75,651.67 384.50,650.00C375.25,648.33 384.55,644.80 384.50,640.00C384.45,635.20 384.03,631.65 384.20,621.20C384.37,610.75 384.95,586.50 385.50,577.30C386.05,568.10 386.83,569.72 387.50,566.00C388.17,562.28 388.75,558.50 389.50,555.00C390.25,551.50 391.17,549.17 392.00,545.00C392.83,540.83 393.72,536.08 394.50,530.00C395.28,523.92 396.02,513.33 396.70,508.50C397.38,503.67 397.65,503.88 398.60,501.00Z" fill="#f5e4bc"/>
<path d="M240.50,501.00C241.85,500.80 242.85,501.98 244.20,502.30C245.55,502.62 247.23,502.48 248.60,502.90C249.97,503.32 251.45,503.87 252.40,504.80C253.35,505.73 253.53,506.30 254.30,508.50C255.07,510.70 256.17,514.87 257.00,518.00C257.83,521.13 258.55,524.13 259.30,527.30C260.05,530.47 260.77,533.85 261.50,537.00C262.23,540.15 263.03,543.03 263.70,546.20C264.37,549.37 265.08,552.87 265.50,556.00C265.92,559.13 265.98,561.45 266.20,565.00C266.42,568.55 266.83,572.63 266.80,577.30C266.77,581.97 266.32,587.78 266.00,593.00C265.68,598.22 265.48,603.77 264.90,608.60C264.32,613.43 263.23,617.82 262.50,622.00C261.77,626.18 261.00,630.70 260.50,633.70C260.00,636.70 259.67,637.28 259.50,640.00C259.33,642.72 264.87,648.33 259.50,650.00C254.13,651.67 232.67,652.72 227.30,650.00C221.93,647.28 227.30,640.60 227.30,633.70C227.30,626.80 227.20,618.00 227.30,608.60C227.40,599.20 227.80,584.57 227.90,577.30C228.00,570.03 228.10,570.18 227.90,565.00C227.70,559.82 226.80,552.48 226.70,546.20C226.60,539.92 226.83,532.17 227.30,527.30C227.77,522.43 228.57,520.13 229.50,517.00C230.43,513.87 231.80,510.75 232.90,508.50C234.00,506.25 234.83,504.75 236.10,503.50C237.37,502.25 239.15,501.20 240.50,501.00Z" fill="#96bf32"/>
<path d="M319.50,419.00C316.83,419.97 319.70,422.80 319.50,424.80C319.30,426.80 319.18,428.50 318.30,431.00C317.42,433.50 315.67,436.87 314.20,439.80C312.73,442.73 310.82,445.83 309.50,448.60C308.18,451.37 306.55,454.00 306.30,456.40C306.05,458.80 307.08,460.43 308.00,463.00C308.92,465.57 310.47,469.20 311.80,471.80C313.13,474.40 314.25,476.88 316.00,478.60C317.75,480.32 320.10,481.15 322.30,482.10C324.50,483.05 326.95,483.67 329.20,484.30C331.45,484.93 334.22,486.00 335.80,485.90C337.38,485.80 337.93,485.35 338.70,483.70C339.47,482.05 340.02,478.95 340.40,476.00C340.78,473.05 340.78,469.00 341.00,466.00C341.22,463.00 341.53,459.85 341.70,458.00C341.87,456.15 342.25,456.88 342.00,454.90C341.75,452.92 340.92,449.03 340.20,446.10C339.48,443.17 338.38,440.23 337.70,437.30C337.02,434.37 336.47,430.58 336.10,428.50C335.73,426.42 335.60,426.38 335.50,424.80C335.40,423.22 338.17,419.97 335.50,419.00C332.83,418.03 322.17,418.03 319.50,419.00Z" fill="#96bf32"/>
<path d="M307.30,566.20C306.02,566.90 303.77,569.15 302.30,571.20C300.83,573.25 299.85,576.65 298.50,578.50C297.15,580.35 295.35,580.62 294.20,582.30C293.05,583.98 292.22,586.42 291.60,588.60C290.98,590.78 290.73,591.13 290.50,595.40C290.27,599.67 290.25,605.97 290.20,614.20C290.15,622.43 290.20,638.83 290.20,644.80C290.20,650.77 278.42,649.13 290.20,650.00C301.98,650.87 349.12,650.90 360.90,650.00C372.68,649.10 361.10,646.55 360.90,644.60C360.70,642.65 360.30,641.37 359.70,638.30C359.10,635.23 358.00,630.22 357.30,626.20C356.60,622.18 356.10,618.22 355.50,614.20C354.90,610.18 354.30,606.12 353.70,602.10C353.10,598.08 352.40,593.10 351.90,590.10C351.40,587.10 351.80,584.70 350.70,584.10C349.60,583.50 346.50,586.27 345.30,586.50C344.10,586.73 344.05,586.58 343.50,585.50C342.95,584.42 342.40,582.25 342.00,580.00C341.60,577.75 341.35,575.13 341.10,572.00C340.85,568.87 340.80,565.08 340.50,561.20C340.20,557.32 339.82,552.67 339.30,548.70C338.78,544.73 338.03,540.97 337.40,537.40C336.77,533.83 336.15,529.45 335.50,527.30C334.85,525.15 334.23,525.02 333.50,524.50C332.77,523.98 331.93,523.95 331.10,524.20C330.27,524.45 329.33,524.85 328.50,526.00C327.67,527.15 326.82,528.78 326.10,531.10C325.38,533.42 324.65,536.35 324.20,539.90C323.75,543.45 323.50,548.22 323.40,552.40C323.30,556.58 323.57,561.90 323.60,565.00C323.63,568.10 323.57,568.83 323.60,571.00C323.63,573.17 323.72,575.50 323.80,578.00C323.88,580.50 323.90,583.42 324.10,586.00C324.30,588.58 324.45,590.83 325.00,593.50C325.55,596.17 326.53,599.33 327.40,602.00C328.27,604.67 329.57,606.68 330.20,609.50C330.83,612.32 331.35,616.23 331.20,618.90C331.05,621.57 330.08,623.85 329.30,625.50C328.52,627.15 327.45,628.48 326.50,628.80C325.55,629.12 324.63,628.58 323.60,627.40C322.57,626.22 320.92,624.68 320.30,621.70C319.68,618.72 319.90,613.88 319.90,609.50C319.90,605.12 320.20,599.32 320.30,595.40C320.40,591.48 320.68,588.57 320.50,586.00C320.32,583.43 319.93,581.87 319.20,580.00C318.47,578.13 317.13,576.47 316.10,574.80C315.07,573.13 314.02,571.30 313.00,570.00C311.98,568.70 310.95,567.63 310.00,567.00C309.05,566.37 308.58,565.50 307.30,566.20Z" fill="#96bf32"/>
<path d="M402.40,501.00C403.43,498.12 404.63,494.92 406.10,491.20C407.57,487.48 409.52,482.67 411.20,478.70C412.88,474.73 414.75,470.75 416.20,467.40C417.65,464.05 418.87,460.68 419.90,458.60C420.93,456.52 421.45,454.90 422.40,454.90C423.35,454.90 424.45,456.73 425.60,458.60C426.75,460.47 428.15,464.00 429.30,466.10C430.45,468.20 431.60,470.15 432.50,471.20C433.40,472.25 433.45,472.10 434.70,472.40C435.95,472.70 439.12,443.40 440.00,473.00C440.88,502.60 448.75,620.50 440.00,650.00C431.25,679.50 396.30,655.00 387.50,650.00C378.70,645.00 387.32,628.33 387.20,620.00C387.08,611.67 386.83,607.12 386.80,600.00C386.77,592.88 386.83,582.97 387.00,577.30C387.17,571.63 387.47,569.72 387.80,566.00C388.13,562.28 388.47,558.50 389.00,555.00C389.53,551.50 390.25,548.83 391.00,545.00C391.75,541.17 392.58,536.17 393.50,532.00C394.42,527.83 395.43,523.92 396.50,520.00C397.57,516.08 398.92,511.67 399.90,508.50C400.88,505.33 401.37,503.88 402.40,501.00Z" fill="#96bf32"/>
<path d="M322.70,612.30C323.12,611.52 326.03,611.20 326.50,612.30C326.97,613.40 325.92,618.12 325.50,618.90C325.08,619.68 324.47,618.10 324.00,617.00C323.53,615.90 322.28,613.08 322.70,612.30Z" fill="#deb887"/>
<path d="M242.30,515.40C244.38,514.98 246.92,516.15 248.60,517.30C250.28,518.45 251.35,520.00 252.40,522.30C253.45,524.60 254.05,528.32 254.90,531.10C255.75,533.88 256.67,536.48 257.50,539.00C258.33,541.52 259.23,543.37 259.90,546.20C260.57,549.03 261.08,552.87 261.50,556.00C261.92,559.13 262.15,561.45 262.40,565.00C262.65,568.55 262.98,572.63 263.00,577.30C263.02,581.97 262.70,587.78 262.50,593.00C262.30,598.22 262.22,603.93 261.80,608.60C261.38,613.27 260.63,616.82 260.00,621.00C259.37,625.18 258.67,630.53 258.00,633.70C257.33,636.87 256.83,637.28 256.00,640.00C255.17,642.72 256.33,648.33 253.00,650.00C249.67,651.67 238.92,651.67 236.00,650.00C233.08,648.33 235.70,642.72 235.50,640.00C235.30,637.28 235.13,636.87 234.80,633.70C234.47,630.53 233.82,625.18 233.50,621.00C233.18,616.82 233.15,613.27 232.90,608.60C232.65,603.93 232.20,598.22 232.00,593.00C231.80,587.78 231.75,581.97 231.70,577.30C231.65,572.63 231.70,570.18 231.70,565.00C231.70,559.82 231.57,551.20 231.70,546.20C231.83,541.20 232.12,538.37 232.50,535.00C232.88,531.63 233.40,528.53 234.00,526.00C234.60,523.47 234.72,521.57 236.10,519.80C237.48,518.03 240.22,515.82 242.30,515.40Z" fill="#bcee68"/>
<path d="M319.90,419.00C317.50,419.97 320.08,422.80 319.90,424.80C319.72,426.80 319.53,428.50 318.80,431.00C318.07,433.50 316.88,436.87 315.50,439.80C314.12,442.73 311.87,445.78 310.50,448.60C309.13,451.42 307.52,454.20 307.30,456.70C307.08,459.20 308.25,461.18 309.20,463.60C310.15,466.02 311.65,468.90 313.00,471.20C314.35,473.50 315.53,475.83 317.30,477.40C319.07,478.97 321.50,479.77 323.60,480.60C325.70,481.43 327.80,481.88 329.90,482.40C332.00,482.92 334.73,483.90 336.20,483.70C337.67,483.50 338.12,483.28 338.70,481.20C339.28,479.12 339.43,474.55 339.70,471.20C339.97,467.85 340.17,463.82 340.30,461.10C340.43,458.38 340.77,457.40 340.50,454.90C340.23,452.40 339.42,449.03 338.70,446.10C337.98,443.17 336.83,440.23 336.20,437.30C335.57,434.37 335.22,430.58 334.90,428.50C334.58,426.42 334.40,426.38 334.30,424.80C334.20,423.22 336.70,419.97 334.30,419.00C331.90,418.03 322.30,418.03 319.90,419.00Z" fill="#bcee68"/>
<path d="M331.80,538.00C332.75,537.78 333.68,538.70 334.30,541.10C334.92,543.50 335.18,548.42 335.50,552.40C335.82,556.38 335.88,561.73 336.20,565.00C336.52,568.27 336.98,568.82 337.40,572.00C337.82,575.18 338.27,580.77 338.70,584.10C339.13,587.43 339.30,589.40 340.00,592.00C340.70,594.60 341.22,598.27 342.90,599.70C344.58,601.13 348.60,599.78 350.10,600.60C351.60,601.42 351.40,602.33 351.90,604.60C352.40,606.87 352.60,610.60 353.10,614.20C353.60,617.80 354.30,622.18 354.90,626.20C355.50,630.22 356.30,635.23 356.70,638.30C357.10,641.37 357.20,642.65 357.30,644.60C357.40,646.55 361.65,649.10 357.30,650.00C352.95,650.90 335.55,650.87 331.20,650.00C326.85,649.13 330.90,646.68 331.20,644.80C331.50,642.92 332.22,640.67 333.00,638.70C333.78,636.73 335.03,635.52 335.90,633.00C336.77,630.48 337.97,626.27 338.20,623.60C338.43,620.93 337.68,619.35 337.30,617.00C336.92,614.65 336.62,612.15 335.90,609.50C335.18,606.85 333.95,603.77 333.00,601.10C332.05,598.43 330.82,596.02 330.20,593.50C329.58,590.98 329.40,588.92 329.30,586.00C329.20,583.08 329.72,579.50 329.60,576.00C329.48,572.50 328.87,568.93 328.60,565.00C328.33,561.07 328.00,556.17 328.00,552.40C328.00,548.63 327.97,544.80 328.60,542.40C329.23,540.00 330.85,538.22 331.80,538.00Z" fill="#bcee68"/>
<path d="M304.80,590.20C306.68,589.65 309.83,589.65 311.40,590.20C312.97,590.75 313.42,591.85 314.20,593.50C314.98,595.15 315.70,597.43 316.10,600.10C316.50,602.77 316.45,605.90 316.60,609.50C316.75,613.10 316.45,618.72 317.00,621.70C317.55,624.68 318.80,625.52 319.90,627.40C321.00,629.28 322.67,631.67 323.60,633.00C324.53,634.33 325.82,634.30 325.50,635.40C325.18,636.50 322.63,638.03 321.70,639.60C320.77,641.17 320.20,643.07 319.90,644.80C319.60,646.53 324.22,649.13 319.90,650.00C315.58,650.87 298.32,650.87 294.00,650.00C289.68,649.13 294.08,649.20 294.00,644.80C293.92,640.40 293.58,630.27 293.50,623.60C293.42,616.93 293.33,609.03 293.50,604.80C293.67,600.57 293.40,600.08 294.50,598.20C295.60,596.32 298.38,594.83 300.10,593.50C301.82,592.17 302.92,590.75 304.80,590.20Z" fill="#bcee68"/>
<path d="M404.90,501.00C405.93,498.12 407.13,494.72 408.60,491.20C410.07,487.68 412.23,483.03 413.70,479.90C415.17,476.77 416.15,474.38 417.40,472.40C418.65,470.42 419.93,468.42 421.20,468.00C422.47,467.58 423.75,468.53 425.00,469.90C426.25,471.27 427.45,473.68 428.70,476.20C429.95,478.72 431.50,482.70 432.50,485.00C433.50,487.30 433.45,488.83 434.70,490.00C435.95,491.17 439.12,465.33 440.00,492.00C440.88,518.67 448.58,623.67 440.00,650.00C431.42,676.33 397.08,651.67 388.50,650.00C379.92,648.33 388.58,645.00 388.50,640.00C388.42,635.00 388.12,626.67 388.00,620.00C387.88,613.33 387.75,607.12 387.80,600.00C387.85,592.88 388.10,582.97 388.30,577.30C388.50,571.63 388.63,569.72 389.00,566.00C389.37,562.28 389.92,558.50 390.50,555.00C391.08,551.50 391.75,548.83 392.50,545.00C393.25,541.17 394.08,536.17 395.00,532.00C395.92,527.83 396.77,523.92 398.00,520.00C399.23,516.08 401.25,511.67 402.40,508.50C403.55,505.33 403.87,503.88 404.90,501.00Z" fill="#bcee68"/>
<path d="M326.10,431.70C327.15,431.07 328.47,431.73 329.30,433.50C330.13,435.27 330.38,439.17 331.10,442.30C331.82,445.43 333.07,449.58 333.60,452.30C334.13,455.02 334.40,456.30 334.30,458.60C334.20,460.90 333.73,464.32 333.00,466.10C332.27,467.88 331.25,468.45 329.90,469.30C328.55,470.15 326.57,471.20 324.90,471.20C323.23,471.20 321.37,470.57 319.90,469.30C318.43,468.03 317.05,465.58 316.10,463.60C315.15,461.62 314.30,459.28 314.20,457.40C314.10,455.52 314.67,454.40 315.50,452.30C316.33,450.20 317.95,447.30 319.20,444.80C320.45,442.30 321.85,439.48 323.00,437.30C324.15,435.12 325.05,432.33 326.10,431.70Z" fill="#20b2aa"/>
<path d="M248.00,545.50C248.92,545.58 250.17,546.25 251.00,547.00C251.83,547.75 252.33,548.33 253.00,550.00C253.67,551.67 254.48,554.50 255.00,557.00C255.52,559.50 255.92,562.67 256.10,565.00C256.28,567.33 256.40,567.92 256.10,571.00C255.80,574.08 255.02,578.90 254.30,583.50C253.58,588.10 252.75,594.32 251.80,598.60C250.85,602.88 249.55,609.20 248.60,609.20C247.65,609.20 246.93,602.88 246.10,598.60C245.27,594.32 244.37,588.10 243.60,583.50C242.83,578.90 241.92,574.08 241.50,571.00C241.08,567.92 241.10,567.67 241.10,565.00C241.10,562.33 241.10,557.67 241.50,555.00C241.90,552.33 242.83,550.42 243.50,549.00C244.17,547.58 244.75,547.08 245.50,546.50C246.25,545.92 247.08,545.42 248.00,545.50Z" fill="#20b2aa"/>
<path d="M419.90,500.40C420.65,500.48 421.37,500.98 422.00,501.50C422.63,502.02 423.00,501.92 423.70,503.50C424.40,505.08 425.47,508.07 426.20,511.00C426.93,513.93 427.58,517.33 428.10,521.10C428.62,524.87 428.98,529.42 429.30,533.60C429.62,537.78 429.78,542.02 430.00,546.20C430.22,550.38 430.52,554.57 430.60,558.70C430.68,562.83 430.82,566.87 430.50,571.00C430.18,575.13 429.62,579.32 428.70,583.50C427.78,587.68 426.35,591.92 425.00,596.10C423.65,600.28 422.07,605.57 420.60,608.60C419.13,611.63 417.57,612.63 416.20,614.30C414.83,615.97 413.55,616.42 412.40,618.60C411.25,620.78 410.13,623.83 409.30,627.40C408.47,630.97 407.78,636.23 407.40,640.00C407.02,643.77 409.52,648.33 407.00,650.00C404.48,651.67 394.75,651.67 392.30,650.00C389.85,648.33 392.50,644.80 392.30,640.00C392.10,635.20 391.48,627.03 391.10,621.20C390.72,615.37 390.27,610.20 390.00,605.00C389.73,599.80 389.62,594.83 389.50,590.00C389.38,585.17 389.25,579.97 389.30,576.00C389.35,572.03 389.50,569.72 389.80,566.20C390.10,562.68 390.47,558.67 391.10,554.90C391.73,551.13 392.67,547.35 393.60,543.60C394.53,539.85 395.65,535.73 396.70,532.40C397.75,529.07 398.53,526.12 399.90,523.60C401.27,521.08 403.02,519.40 404.90,517.30C406.78,515.20 409.53,513.30 411.20,511.00C412.87,508.70 413.85,505.17 414.90,503.50C415.95,501.83 416.67,501.52 417.50,501.00C418.33,500.48 419.15,500.32 419.90,500.40Z" fill="#20b2aa"/>
<path d="M400.50,542.40C401.17,542.40 401.87,542.95 402.50,544.00C403.13,545.05 403.70,546.25 404.30,548.70C404.90,551.15 405.68,555.37 406.10,558.70C406.52,562.03 406.80,565.98 406.80,568.70C406.80,571.42 406.32,570.43 406.10,575.00C405.88,579.57 405.92,588.40 405.50,596.10C405.08,603.80 404.12,613.88 403.60,621.20C403.08,628.52 402.60,635.20 402.40,640.00C402.20,644.80 403.23,648.33 402.40,650.00C401.57,651.67 398.23,651.67 397.40,650.00C396.57,648.33 397.72,644.80 397.40,640.00C397.08,635.20 396.23,628.52 395.50,621.20C394.77,613.88 393.63,603.80 393.00,596.10C392.37,588.40 391.97,579.57 391.70,575.00C391.43,570.43 391.18,571.42 391.40,568.70C391.62,565.98 392.22,562.03 393.00,558.70C393.78,555.37 395.18,551.15 396.10,548.70C397.02,546.25 397.77,545.05 398.50,544.00C399.23,542.95 399.83,542.40 400.50,542.40Z" fill="#b0e0e6"/>
<path d="M396.70,563.70C397.28,563.70 398.47,566.98 398.60,568.70C398.73,570.42 397.82,572.57 397.50,574.00C397.18,575.43 396.98,577.30 396.70,577.30C396.42,577.30 396.07,575.43 395.80,574.00C395.53,572.57 394.95,570.42 395.10,568.70C395.25,566.98 396.12,563.70 396.70,563.70Z" fill="#7b9ef0"/>
<path d="M338.50,646.00C336.92,645.53 338.92,643.83 339.50,643.20C340.08,642.57 341.25,642.15 342.00,642.20C342.75,642.25 343.33,643.45 344.00,643.50C344.67,643.55 345.25,642.50 346.00,642.50C346.75,642.50 348.00,642.92 348.50,643.50C349.00,644.08 350.67,645.58 349.00,646.00C347.33,646.42 340.08,646.47 338.50,646.00Z" fill="#20b2aa"/>
<path d="M411.20,641.00C408.60,639.78 412.25,635.33 413.70,633.70C415.15,632.07 417.82,632.25 419.90,631.20C421.98,630.15 424.63,627.62 426.20,627.40C427.77,627.18 428.78,627.63 429.30,629.90C429.82,632.17 432.32,639.15 429.30,641.00C426.28,642.85 413.80,642.22 411.20,641.00Z" fill="#96bf32"/>
<path d="M419.90,641.00C419.17,640.20 422.43,637.20 423.70,636.20C424.97,635.20 426.77,634.20 427.50,635.00C428.23,635.80 429.37,640.00 428.10,641.00C426.83,642.00 420.63,641.80 419.90,641.00Z" fill="#f5e4bc"/>
<rect x="253" y="640.6" width="6.300000000000011" height="9.399999999999977" fill="#fff"/>
<rect x="382.3" y="640.6" width="57.69999999999999" height="9.399999999999977" fill="#fff"/>
<rect x="428.1" y="629.9" width="11.899999999999977" height="20.100000000000023" fill="#fff"/>
<rect x="432.5" y="623" width="7.5" height="27" fill="#fff"/>
</g>
<rect x="214.5" y="424.0" width="220.5" height="221.29999999999995" fill="none" stroke="#000" stroke-width="1.5"/>
<path d="M425.02,424.0V420.8M425.02,645.3V648.5M412.48,424.0V420.8M412.48,645.3V648.5M387.42,424.0V420.8M387.42,645.3V648.5M374.88,424.0V420.8M374.88,645.3V648.5M349.82,424.0V420.8M349.82,645.3V648.5M337.28,424.0V420.8M337.28,645.3V648.5M312.22,424.0V420.8M312.22,645.3V648.5M299.68,424.0V420.8M299.68,645.3V648.5M274.62,424.0V420.8M274.62,645.3V648.5M262.08,424.0V420.8M262.08,645.3V648.5M237.02,424.0V420.8M237.02,645.3V648.5M224.48,424.0V420.8M224.48,645.3V648.5" stroke="#222" stroke-width="1.0" fill="none"/>
<path d="M399.95,424.0V417.7M399.95,645.3V651.5999999999999M362.35,424.0V417.7M362.35,645.3V651.5999999999999M324.75,424.0V417.7M324.75,645.3V651.5999999999999M287.15,424.0V417.7M287.15,645.3V651.5999999999999M249.55,424.0V417.7M249.55,645.3V651.5999999999999M214.5,424.00H208.0M214.5,456.24H208.0M214.5,477.47H208.0M214.5,499.98H208.0M214.5,525.57H208.0M214.5,543.73H208.0M214.5,557.81H208.0M214.5,569.32H208.0M214.5,587.47H208.0M214.5,601.56H208.0M214.5,622.79H208.0M214.5,635.04H208.0M214.5,645.30H208.0M435.0,462.50H441.5M435.0,502.00H441.5M435.0,542.00H441.5M435.0,580.50H441.5M435.0,614.50H441.5" stroke="#000" stroke-width="1.3" fill="none"/>
<text x="249.55" y="663.50" font-family='"Liberation Sans", sans-serif' font-size="9.5" text-anchor="middle" >60N</text>
<text x="287.15" y="663.50" font-family='"Liberation Sans", sans-serif' font-size="9.5" text-anchor="middle" >30N</text>
<text x="324.75" y="663.50" font-family='"Liberation Sans", sans-serif' font-size="9.5" text-anchor="middle" >0</text>
<text x="362.35" y="663.50" font-family='"Liberation Sans", sans-serif' font-size="9.5" text-anchor="middle" >30S</text>
<text x="399.95" y="663.50" font-family='"Liberation Sans", sans-serif' font-size="9.5" text-anchor="middle" >60S</text>
<text x="202.90" y="427.60" font-family='"Liberation Sans", sans-serif' font-size="9.6" text-anchor="end" >30</text>
<text x="202.90" y="459.84" font-family='"Liberation Sans", sans-serif' font-size="9.6" text-anchor="end" >50</text>
<text x="202.90" y="481.07" font-family='"Liberation Sans", sans-serif' font-size="9.6" text-anchor="end" >70</text>
<text x="202.90" y="503.58" font-family='"Liberation Sans", sans-serif' font-size="9.6" text-anchor="end" >100</text>
<text x="202.90" y="529.17" font-family='"Liberation Sans", sans-serif' font-size="9.6" text-anchor="end" >150</text>
<text x="202.90" y="547.33" font-family='"Liberation Sans", sans-serif' font-size="9.6" text-anchor="end" >200</text>
<text x="202.90" y="561.41" font-family='"Liberation Sans", sans-serif' font-size="9.6" text-anchor="end" >250</text>
<text x="202.90" y="572.92" font-family='"Liberation Sans", sans-serif' font-size="9.6" text-anchor="end" >300</text>
<text x="202.90" y="591.07" font-family='"Liberation Sans", sans-serif' font-size="9.6" text-anchor="end" >400</text>
<text x="202.90" y="605.16" font-family='"Liberation Sans", sans-serif' font-size="9.6" text-anchor="end" >500</text>
<text x="202.90" y="626.39" font-family='"Liberation Sans", sans-serif' font-size="9.6" text-anchor="end" >700</text>
<text x="202.90" y="638.64" font-family='"Liberation Sans", sans-serif' font-size="9.6" text-anchor="end" >850</text>
<text x="202.90" y="648.90" font-family='"Liberation Sans", sans-serif' font-size="9.6" text-anchor="end" >1000</text>
<text x="446.20" y="466.00" font-family='"Liberation Sans", sans-serif' font-size="9.6" text-anchor="start" >20</text>
<text x="446.20" y="505.50" font-family='"Liberation Sans", sans-serif' font-size="9.6" text-anchor="start" >16</text>
<text x="446.20" y="545.50" font-family='"Liberation Sans", sans-serif' font-size="9.6" text-anchor="start" >12</text>
<text x="446.20" y="584.00" font-family='"Liberation Sans", sans-serif' font-size="9.6" text-anchor="start" >8</text>
<text x="446.20" y="618.00" font-family='"Liberation Sans", sans-serif' font-size="9.6" text-anchor="start" >4</text>
<text transform="translate(172.8,534.65) rotate(-90) scale(1.12,1)" x="0" y="0" font-family='"Liberation Serif", serif' font-size="15" text-anchor="middle" textLength="95.27" lengthAdjust="spacing" stroke="#fff" stroke-width="0.2">Pressure (mb)</text>
<text transform="translate(474.5,534.65) rotate(-90) scale(1.12,1)" x="0" y="0" font-family='"Liberation Serif", serif' font-size="15" text-anchor="middle" textLength="80.80" lengthAdjust="spacing" stroke="#fff" stroke-width="0.2">Height (km)</text>
<text x="251.30" y="394.70" font-family='"Liberation Serif", serif' font-size="14.8" text-anchor="start" textLength="73.40" lengthAdjust="spacingAndGlyphs"  stroke="#fff" stroke-width="0.2">b01.01ibis</text>
<text x="334.00" y="394.70" font-family='"Liberation Serif", serif' font-size="14.8" text-anchor="start" textLength="7.60" lengthAdjust="spacingAndGlyphs"  stroke="#fff" stroke-width="0.2">−</text>
<text x="350.30" y="394.70" font-family='"Liberation Serif", serif' font-size="14.8" text-anchor="start" textLength="48.20" lengthAdjust="spacingAndGlyphs"  stroke="#fff" stroke-width="0.2">ECMWF</text>
<text transform="translate(213.80,417.10) scale(1.12,1)" x="0" y="0" font-family='"Liberation Serif", serif' font-size="12.6" text-anchor="start" textLength="65.36" lengthAdjust="spacing"  stroke="#fff" stroke-width="0.2">Zonal wind</text>
<text x="407.90" y="415.00" font-family='"Liberation Serif", serif' font-size="12.6" text-anchor="start" textLength="28.00" lengthAdjust="spacingAndGlyphs"  stroke="#fff" stroke-width="0.2">m/s</text>
<text x="77.80" y="321.30" font-family='"Liberation Serif", serif' font-size="11.6" text-anchor="start" textLength="19.20" lengthAdjust="spacingAndGlyphs"  stroke="#fff" stroke-width="0.2">MIN</text>
<text x="104.50" y="321.30" font-family='"Liberation Serif", serif' font-size="11.6" text-anchor="start" textLength="6.60" lengthAdjust="spacingAndGlyphs"  stroke="#fff" stroke-width="0.2">=</text>
<text x="118.60" y="321.70" font-family='"Liberation Serif", serif' font-size="11.8" text-anchor="start" textLength="40.10" lengthAdjust="spacingAndGlyphs"  stroke="#fff" stroke-width="0.2">−15.20</text>
<text x="170.20" y="321.30" font-family='"Liberation Serif", serif' font-size="11.6" text-anchor="start" textLength="22.60" lengthAdjust="spacingAndGlyphs"  stroke="#fff" stroke-width="0.2">MAX</text>
<text x="198.70" y="321.30" font-family='"Liberation Serif", serif' font-size="11.6" text-anchor="start" textLength="7.90" lengthAdjust="spacingAndGlyphs"  stroke="#fff" stroke-width="0.2">=</text>
<text x="219.10" y="321.70" font-family='"Liberation Serif", serif' font-size="11.8" text-anchor="start" textLength="30.70" lengthAdjust="spacingAndGlyphs"  stroke="#fff" stroke-width="0.2">45.67</text>
<text x="399.80" y="321.30" font-family='"Liberation Serif", serif' font-size="11.6" text-anchor="start" textLength="19.20" lengthAdjust="spacingAndGlyphs"  stroke="#fff" stroke-width="0.2">MIN</text>
<text x="426.50" y="321.30" font-family='"Liberation Serif", serif' font-size="11.6" text-anchor="start" textLength="6.60" lengthAdjust="spacingAndGlyphs"  stroke="#fff" stroke-width="0.2">=</text>
<text x="440.60" y="321.70" font-family='"Liberation Serif", serif' font-size="11.8" text-anchor="start" textLength="40.10" lengthAdjust="spacingAndGlyphs"  stroke="#fff" stroke-width="0.2">−19.95</text>
<text x="492.20" y="321.30" font-family='"Liberation Serif", serif' font-size="11.6" text-anchor="start" textLength="22.60" lengthAdjust="spacingAndGlyphs"  stroke="#fff" stroke-width="0.2">MAX</text>
<text x="520.70" y="321.30" font-family='"Liberation Serif", serif' font-size="11.6" text-anchor="start" textLength="7.90" lengthAdjust="spacingAndGlyphs"  stroke="#fff" stroke-width="0.2">=</text>
<text x="541.10" y="321.70" font-family='"Liberation Serif", serif' font-size="11.8" text-anchor="start" textLength="30.70" lengthAdjust="spacingAndGlyphs"  stroke="#fff" stroke-width="0.2">41.84</text>
<text x="464.90" y="446.60" font-family='"Liberation Serif", serif' font-size="11.6" text-anchor="start" textLength="19.40" lengthAdjust="spacingAndGlyphs"  stroke="#fff" stroke-width="0.2">MIN</text>
<text x="491.30" y="446.60" font-family='"Liberation Serif", serif' font-size="11.6" text-anchor="start" textLength="7.10" lengthAdjust="spacingAndGlyphs"  stroke="#fff" stroke-width="0.2">=</text>
<text x="511.90" y="447.00" font-family='"Liberation Serif", serif' font-size="11.8" text-anchor="start" textLength="32.30" lengthAdjust="spacingAndGlyphs"  stroke="#fff" stroke-width="0.2">−9.52</text>
<text x="556.20" y="446.60" font-family='"Liberation Serif", serif' font-size="11.6" text-anchor="start" textLength="22.10" lengthAdjust="spacingAndGlyphs"  stroke="#fff" stroke-width="0.2">MAX</text>
<text x="585.00" y="446.60" font-family='"Liberation Serif", serif' font-size="11.6" text-anchor="start" textLength="7.40" lengthAdjust="spacingAndGlyphs"  stroke="#fff" stroke-width="0.2">=</text>
<text x="605.80" y="447.00" font-family='"Liberation Serif", serif' font-size="11.8" text-anchor="start" textLength="28.50" lengthAdjust="spacingAndGlyphs"  stroke="#fff" stroke-width="0.2">15.80</text>
<rect x="56.30" y="332.3" width="13.40" height="20" fill="#9370db" stroke="#000" stroke-width="0.8"/>
<rect x="69.70" y="332.3" width="13.40" height="20" fill="#0000cd" stroke="#000" stroke-width="0.8"/>
<rect x="83.10" y="332.3" width="13.40" height="20" fill="#4169e1" stroke="#000" stroke-width="0.8"/>
<rect x="96.50" y="332.3" width="13.40" height="20" fill="#7b9ef0" stroke="#000" stroke-width="0.8"/>
<rect x="109.90" y="332.3" width="13.40" height="20" fill="#b0e0e6" stroke="#000" stroke-width="0.8"/>
<rect x="123.30" y="332.3" width="13.40" height="20" fill="#20b2aa" stroke="#000" stroke-width="0.8"/>
<rect x="136.70" y="332.3" width="13.40" height="20" fill="#bcee68" stroke="#000" stroke-width="0.8"/>
<rect x="150.10" y="332.3" width="13.40" height="20" fill="#96bf32" stroke="#000" stroke-width="0.8"/>
<rect x="163.50" y="332.3" width="13.40" height="20" fill="#f5e4bc" stroke="#000" stroke-width="0.8"/>
<rect x="176.90" y="332.3" width="13.40" height="20" fill="#deb887" stroke="#000" stroke-width="0.8"/>
<rect x="190.30" y="332.3" width="13.40" height="20" fill="#ffd700" stroke="#000" stroke-width="0.8"/>
<rect x="203.70" y="332.3" width="13.40" height="20" fill="#ffa500" stroke="#000" stroke-width="0.8"/>
<rect x="217.10" y="332.3" width="13.40" height="20" fill="#ff4500" stroke="#000" stroke-width="0.8"/>
<rect x="230.50" y="332.3" width="13.40" height="20" fill="#b22222" stroke="#000" stroke-width="0.8"/>
<rect x="243.90" y="332.3" width="13.40" height="20" fill="#ffb6c1" stroke="#000" stroke-width="0.8"/>
<rect x="257.30" y="332.3" width="13.40" height="20" fill="#ff1493" stroke="#000" stroke-width="0.8"/>
<text x="69.70" y="364.90" font-family='"Liberation Sans", sans-serif' font-size="9.5" text-anchor="middle" >−20</text>
<text x="96.50" y="364.90" font-family='"Liberation Sans", sans-serif' font-size="9.5" text-anchor="middle" >−10</text>
<text x="123.30" y="364.90" font-family='"Liberation Sans", sans-serif' font-size="9.5" text-anchor="middle" >0</text>
<text x="150.10" y="364.90" font-family='"Liberation Sans", sans-serif' font-size="9.5" text-anchor="middle" >10</text>
<text x="176.90" y="364.90" font-family='"Liberation Sans", sans-serif' font-size="9.5" text-anchor="middle" >20</text>
<text x="203.70" y="364.90" font-family='"Liberation Sans", sans-serif' font-size="9.5" text-anchor="middle" >30</text>
<text x="230.50" y="364.90" font-family='"Liberation Sans", sans-serif' font-size="9.5" text-anchor="middle" >50</text>
<text x="257.30" y="364.90" font-family='"Liberation Sans", sans-serif' font-size="9.5" text-anchor="middle" >70</text>
<rect x="378.30" y="332.3" width="13.40" height="20" fill="#9370db" stroke="#000" stroke-width="0.8"/>
<rect x="391.70" y="332.3" width="13.40" height="20" fill="#0000cd" stroke="#000" stroke-width="0.8"/>
<rect x="405.10" y="332.3" width="13.40" height="20" fill="#4169e1" stroke="#000" stroke-width="0.8"/>
<rect x="418.50" y="332.3" width="13.40" height="20" fill="#7b9ef0" stroke="#000" stroke-width="0.8"/>
<rect x="431.90" y="332.3" width="13.40" height="20" fill="#b0e0e6" stroke="#000" stroke-width="0.8"/>
<rect x="445.30" y="332.3" width="13.40" height="20" fill="#20b2aa" stroke="#000" stroke-width="0.8"/>
<rect x="458.70" y="332.3" width="13.40" height="20" fill="#bcee68" stroke="#000" stroke-width="0.8"/>
<rect x="472.10" y="332.3" width="13.40" height="20" fill="#96bf32" stroke="#000" stroke-width="0.8"/>
<rect x="485.50" y="332.3" width="13.40" height="20" fill="#f5e4bc" stroke="#000" stroke-width="0.8"/>
<rect x="498.90" y="332.3" width="13.40" height="20" fill="#deb887" stroke="#000" stroke-width="0.8"/>
<rect x="512.30" y="332.3" width="13.40" height="20" fill="#ffd700" stroke="#000" stroke-width="0.8"/>
<rect x="525.70" y="332.3" width="13.40" height="20" fill="#ffa500" stroke="#000" stroke-width="0.8"/>
<rect x="539.10" y="332.3" width="13.40" height="20" fill="#ff4500" stroke="#000" stroke-width="0.8"/>
<rect x="552.50" y="332.3" width="13.40" height="20" fill="#b22222" stroke="#000" stroke-width="0.8"/>
<rect x="565.90" y="332.3" width="13.40" height="20" fill="#ffb6c1" stroke="#000" stroke-width="0.8"/>
<rect x="579.30" y="332.3" width="13.40" height="20" fill="#ff1493" stroke="#000" stroke-width="0.8"/>
<text x="391.70" y="364.90" font-family='"Liberation Sans", sans-serif' font-size="9.5" text-anchor="middle" >−20</text>
<text x="418.50" y="364.90" font-family='"Liberation Sans", sans-serif' font-size="9.5" text-anchor="middle" >−10</text>
<text x="445.30" y="364.90" font-family='"Liberation Sans", sans-serif' font-size="9.5" text-anchor="middle" >0</text>
<text x="472.10" y="364.90" font-family='"Liberation Sans", sans-serif' font-size="9.5" text-anchor="middle" >10</text>
<text x="498.90" y="364.90" font-family='"Liberation Sans", sans-serif' font-size="9.5" text-anchor="middle" >20</text>
<text x="525.70" y="364.90" font-family='"Liberation Sans", sans-serif' font-size="9.5" text-anchor="middle" >30</text>
<text x="552.50" y="364.90" font-family='"Liberation Sans", sans-serif' font-size="9.5" text-anchor="middle" >50</text>
<text x="579.30" y="364.90" font-family='"Liberation Sans", sans-serif' font-size="9.5" text-anchor="middle" >70</text>
<rect x="523.3" y="465.20" width="30.7" height="11.14" fill="#ff1493" stroke="#000" stroke-width="0.8"/>
<rect x="523.3" y="476.34" width="30.7" height="11.14" fill="#ffb6c1" stroke="#000" stroke-width="0.8"/>
<rect x="523.3" y="487.48" width="30.7" height="11.14" fill="#b22222" stroke="#000" stroke-width="0.8"/>
<rect x="523.3" y="498.62" width="30.7" height="11.14" fill="#ff4500" stroke="#000" stroke-width="0.8"/>
<rect x="523.3" y="509.76" width="30.7" height="11.14" fill="#ffa500" stroke="#000" stroke-width="0.8"/>
<rect x="523.3" y="520.90" width="30.7" height="11.14" fill="#ffd700" stroke="#000" stroke-width="0.8"/>
<rect x="523.3" y="532.04" width="30.7" height="11.14" fill="#deb887" stroke="#000" stroke-width="0.8"/>
<rect x="523.3" y="543.18" width="30.7" height="11.14" fill="#f5e4bc" stroke="#000" stroke-width="0.8"/>
<rect x="523.3" y="554.32" width="30.7" height="11.14" fill="#96bf32" stroke="#000" stroke-width="0.8"/>
<rect x="523.3" y="565.46" width="30.7" height="11.14" fill="#bcee68" stroke="#000" stroke-width="0.8"/>
<rect x="523.3" y="576.60" width="30.7" height="11.14" fill="#20b2aa" stroke="#000" stroke-width="0.8"/>
<rect x="523.3" y="587.74" width="30.7" height="11.14" fill="#b0e0e6" stroke="#000" stroke-width="0.8"/>
<rect x="523.3" y="598.88" width="30.7" height="11.14" fill="#7b9ef0" stroke="#000" stroke-width="0.8"/>
<rect x="523.3" y="610.02" width="30.7" height="11.14" fill="#4169e1" stroke="#000" stroke-width="0.8"/>
<rect x="523.3" y="621.16" width="30.7" height="11.14" fill="#0000cd" stroke="#000" stroke-width="0.8"/>
<rect x="523.3" y="632.30" width="30.7" height="11.14" fill="#9370db" stroke="#000" stroke-width="0.8"/>
<text x="567.20" y="479.74" font-family='"Liberation Sans", sans-serif' font-size="9.5" text-anchor="middle" >18</text>
<text x="567.20" y="490.88" font-family='"Liberation Sans", sans-serif' font-size="9.5" text-anchor="middle" >15</text>
<text x="567.20" y="502.02" font-family='"Liberation Sans", sans-serif' font-size="9.5" text-anchor="middle" >12</text>
<text x="567.20" y="513.16" font-family='"Liberation Sans", sans-serif' font-size="9.5" text-anchor="middle" >9</text>
<text x="567.20" y="524.30" font-family='"Liberation Sans", sans-serif' font-size="9.5" text-anchor="middle" >6</text>
<text x="567.20" y="535.44" font-family='"Liberation Sans", sans-serif' font-size="9.5" text-anchor="middle" >3</text>
<text x="567.20" y="546.58" font-family='"Liberation Sans", sans-serif' font-size="9.5" text-anchor="middle" >1</text>
<text x="567.20" y="557.72" font-family='"Liberation Sans", sans-serif' font-size="9.5" text-anchor="middle" >0</text>
<text x="567.20" y="568.86" font-family='"Liberation Sans", sans-serif' font-size="9.5" text-anchor="middle" >−1</text>
<text x="567.20" y="580.00" font-family='"Liberation Sans", sans-serif' font-size="9.5" text-anchor="middle" >−3</text>
<text x="567.20" y="591.14" font-family='"Liberation Sans", sans-serif' font-size="9.5" text-anchor="middle" >−6</text>
<text x="567.20" y="602.28" font-family='"Liberation Sans", sans-serif' font-size="9.5" text-anchor="middle" >−9</text>
<text x="567.20" y="613.42" font-family='"Liberation Sans", sans-serif' font-size="9.5" text-anchor="middle" >−12</text>
<text x="567.20" y="624.56" font-family='"Liberation Sans", sans-serif' font-size="9.5" text-anchor="middle" >−15</text>
<text x="567.20" y="635.70" font-family='"Liberation Sans", sans-serif' font-size="9.5" text-anchor="middle" >−18</text>
</svg></body></html>
